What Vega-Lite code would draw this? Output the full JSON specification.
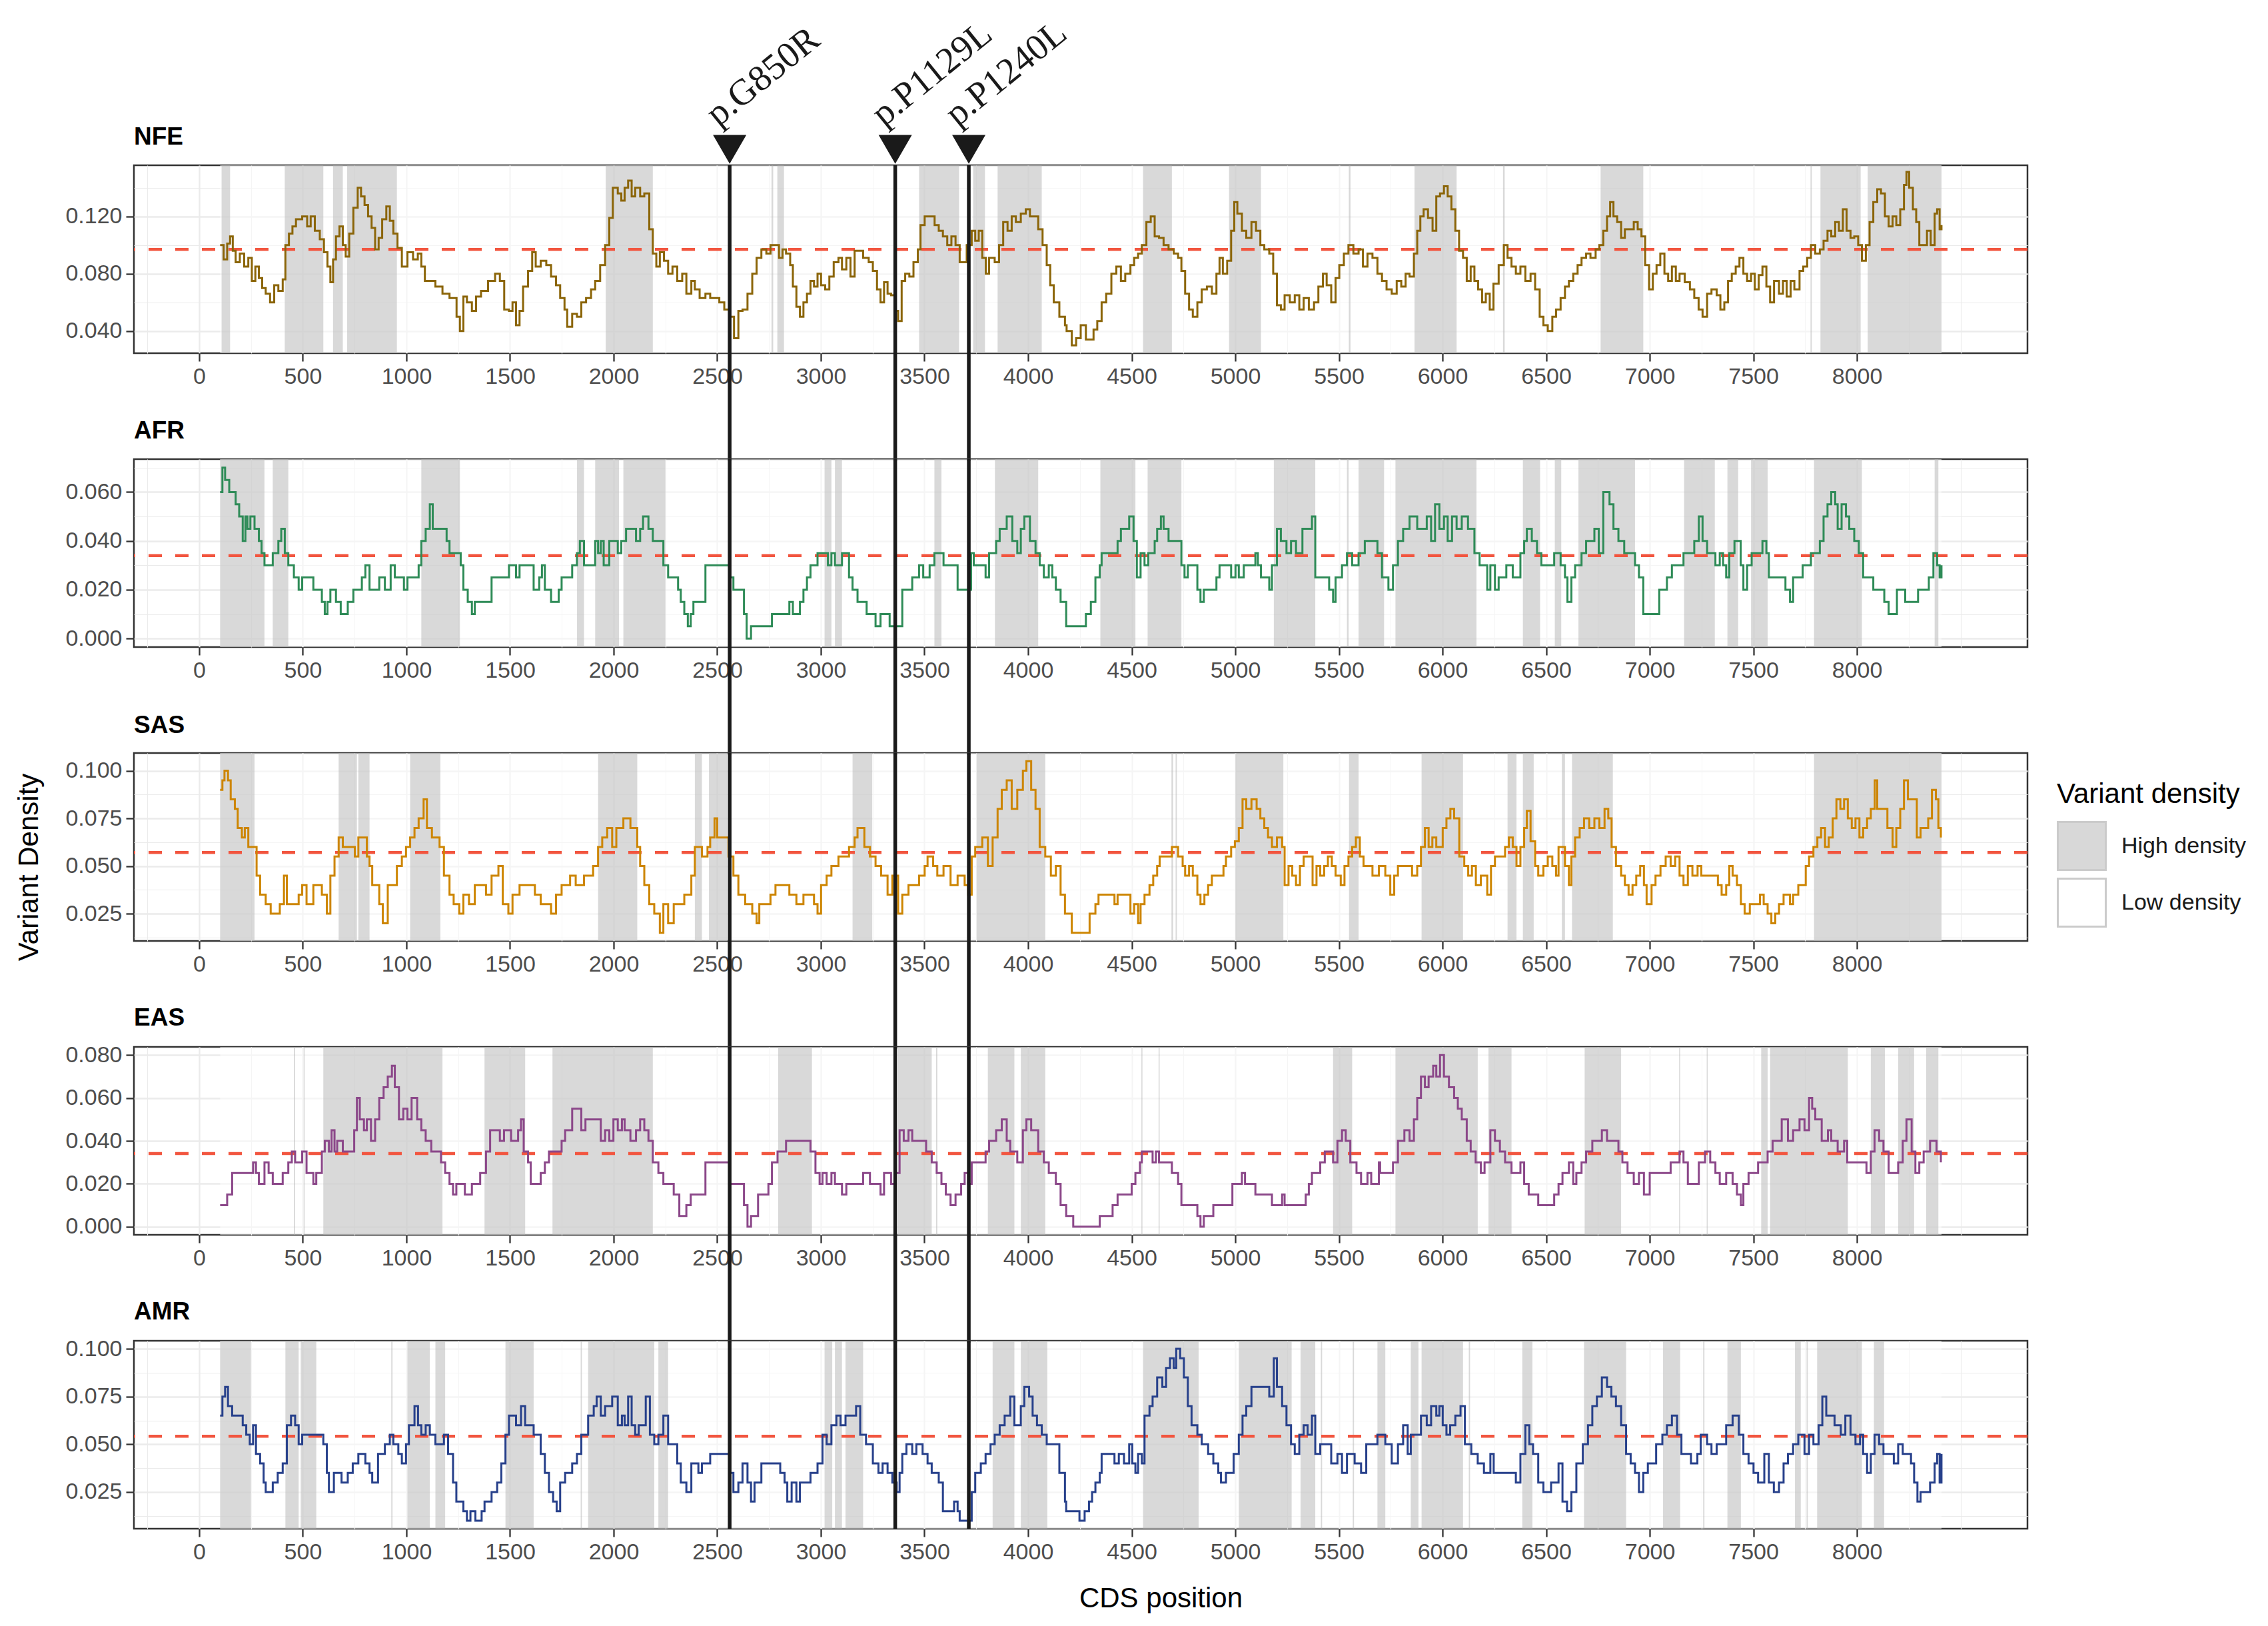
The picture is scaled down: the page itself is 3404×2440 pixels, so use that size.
{
  "$schema": "https://vega.github.io/schema/vega-lite/v6.json",
  "background": "white",
  "padding": {"left": 20, "top": 19, "right": 5, "bottom": 5},
  "bounds": "flush",
  "spacing": 159,
  "config": {
    "font": "Liberation Sans",
    "view": {"stroke": "#333333", "strokeWidth": 2.5},
    "axis": {
      "domain": false, "gridColor": "#EBEBEB", "tickColor": "#333333", "tickSize": 12, "tickWidth": 2.3,
      "labelFont": "Liberation Sans", "labelFontSize": 34, "labelColor": "#4D4D4D", "labelPadding": 6,
      "titleFont": "Liberation Sans", "titleFontSize": 42, "titleFontWeight": "normal", "titleColor": "#000000"
    },
    "title": {"anchor": "start", "frame": "group", "fontSize": 37, "fontWeight": "bold", "color": "#000000", "baseline": "alphabetic", "offset": 19, "font": "Liberation Sans"}
  },
  "datasets": {
    "variants": [
      {"label": "p.G850R", "pos": 2560},
      {"label": "p.P1129L", "pos": 3359},
      {"label": "p.P1240L", "pos": 3714}
    ],
    "means": [
      {"pop": "NFE", "mean": 0.097},
      {"pop": "AFR", "mean": 0.034},
      {"pop": "SAS", "mean": 0.0571},
      {"pop": "EAS", "mean": 0.0341},
      {"pop": "AMR", "mean": 0.0542}
    ],
    "regions": [
      {"pop":"NFE","start":101,"end":8408,"density":"Low density"},
      {"pop":"AFR","start":101,"end":8408,"density":"Low density"},
      {"pop":"SAS","start":101,"end":8408,"density":"Low density"},
      {"pop":"EAS","start":101,"end":8408,"density":"Low density"},
      {"pop":"AMR","start":101,"end":8408,"density":"Low density"},
      {"pop":"NFE","start":108,"end":149,"density":"High density"},
      {"pop":"NFE","start":413,"end":599,"density":"High density"},
      {"pop":"NFE","start":646,"end":693,"density":"High density"},
      {"pop":"NFE","start":714,"end":954,"density":"High density"},
      {"pop":"NFE","start":1962,"end":2189,"density":"High density"},
      {"pop":"NFE","start":2762,"end":2770,"density":"High density"},
      {"pop":"NFE","start":2790,"end":2822,"density":"High density"},
      {"pop":"NFE","start":3474,"end":3667,"density":"High density"},
      {"pop":"NFE","start":3735,"end":3792,"density":"High density"},
      {"pop":"NFE","start":3853,"end":4066,"density":"High density"},
      {"pop":"NFE","start":4555,"end":4694,"density":"High density"},
      {"pop":"NFE","start":4970,"end":5124,"density":"High density"},
      {"pop":"NFE","start":5548,"end":5556,"density":"High density"},
      {"pop":"NFE","start":5865,"end":6068,"density":"High density"},
      {"pop":"NFE","start":6292,"end":6300,"density":"High density"},
      {"pop":"NFE","start":6763,"end":6969,"density":"High density"},
      {"pop":"NFE","start":7776,"end":7782,"density":"High density"},
      {"pop":"NFE","start":7824,"end":8018,"density":"High density"},
      {"pop":"NFE","start":8052,"end":8408,"density":"High density"},
      {"pop":"AFR","start":101,"end":315,"density":"High density"},
      {"pop":"AFR","start":355,"end":430,"density":"High density"},
      {"pop":"AFR","start":1072,"end":1258,"density":"High density"},
      {"pop":"AFR","start":1823,"end":1857,"density":"High density"},
      {"pop":"AFR","start":1911,"end":2026,"density":"High density"},
      {"pop":"AFR","start":2047,"end":2250,"density":"High density"},
      {"pop":"AFR","start":3018,"end":3051,"density":"High density"},
      {"pop":"AFR","start":3068,"end":3102,"density":"High density"},
      {"pop":"AFR","start":3548,"end":3582,"density":"High density"},
      {"pop":"AFR","start":3840,"end":4049,"density":"High density"},
      {"pop":"AFR","start":4349,"end":4518,"density":"High density"},
      {"pop":"AFR","start":4577,"end":4740,"density":"High density"},
      {"pop":"AFR","start":5186,"end":5386,"density":"High density"},
      {"pop":"AFR","start":5539,"end":5547,"density":"High density"},
      {"pop":"AFR","start":5595,"end":5718,"density":"High density"},
      {"pop":"AFR","start":5773,"end":6164,"density":"High density"},
      {"pop":"AFR","start":6388,"end":6471,"density":"High density"},
      {"pop":"AFR","start":6542,"end":6573,"density":"High density"},
      {"pop":"AFR","start":6656,"end":6929,"density":"High density"},
      {"pop":"AFR","start":7166,"end":7314,"density":"High density"},
      {"pop":"AFR","start":7375,"end":7427,"density":"High density"},
      {"pop":"AFR","start":7489,"end":7569,"density":"High density"},
      {"pop":"AFR","start":7793,"end":8024,"density":"High density"},
      {"pop":"AFR","start":8375,"end":8393,"density":"High density"},
      {"pop":"SAS","start":101,"end":267,"density":"High density"},
      {"pop":"SAS","start":673,"end":761,"density":"High density"},
      {"pop":"SAS","start":768,"end":822,"density":"High density"},
      {"pop":"SAS","start":1018,"end":1164,"density":"High density"},
      {"pop":"SAS","start":1925,"end":2114,"density":"High density"},
      {"pop":"SAS","start":2392,"end":2426,"density":"High density"},
      {"pop":"SAS","start":2460,"end":2547,"density":"High density"},
      {"pop":"SAS","start":3153,"end":3248,"density":"High density"},
      {"pop":"SAS","start":3752,"end":4083,"density":"High density"},
      {"pop":"SAS","start":4692,"end":4700,"density":"High density"},
      {"pop":"SAS","start":4712,"end":4718,"density":"High density"},
      {"pop":"SAS","start":5001,"end":5232,"density":"High density"},
      {"pop":"SAS","start":5549,"end":5595,"density":"High density"},
      {"pop":"SAS","start":5899,"end":6099,"density":"High density"},
      {"pop":"SAS","start":6314,"end":6357,"density":"High density"},
      {"pop":"SAS","start":6388,"end":6440,"density":"High density"},
      {"pop":"SAS","start":6576,"end":6591,"density":"High density"},
      {"pop":"SAS","start":6625,"end":6822,"density":"High density"},
      {"pop":"SAS","start":7793,"end":8408,"density":"High density"},
      {"pop":"EAS","start":457,"end":463,"density":"High density"},
      {"pop":"EAS","start":504,"end":509,"density":"High density"},
      {"pop":"EAS","start":599,"end":1174,"density":"High density"},
      {"pop":"EAS","start":1377,"end":1573,"density":"High density"},
      {"pop":"EAS","start":1705,"end":2189,"density":"High density"},
      {"pop":"EAS","start":2794,"end":2957,"density":"High density"},
      {"pop":"EAS","start":3373,"end":3535,"density":"High density"},
      {"pop":"EAS","start":3556,"end":3562,"density":"High density"},
      {"pop":"EAS","start":3806,"end":3934,"density":"High density"},
      {"pop":"EAS","start":3965,"end":4083,"density":"High density"},
      {"pop":"EAS","start":4547,"end":4552,"density":"High density"},
      {"pop":"EAS","start":4630,"end":4635,"density":"High density"},
      {"pop":"EAS","start":5472,"end":5564,"density":"High density"},
      {"pop":"EAS","start":5773,"end":6170,"density":"High density"},
      {"pop":"EAS","start":6222,"end":6333,"density":"High density"},
      {"pop":"EAS","start":6686,"end":6862,"density":"High density"},
      {"pop":"EAS","start":7142,"end":7147,"density":"High density"},
      {"pop":"EAS","start":7275,"end":7280,"density":"High density"},
      {"pop":"EAS","start":7538,"end":7569,"density":"High density"},
      {"pop":"EAS","start":7581,"end":7956,"density":"High density"},
      {"pop":"EAS","start":8067,"end":8135,"density":"High density"},
      {"pop":"EAS","start":8199,"end":8276,"density":"High density"},
      {"pop":"EAS","start":8334,"end":8393,"density":"High density"},
      {"pop":"AMR","start":101,"end":250,"density":"High density"},
      {"pop":"AMR","start":416,"end":480,"density":"High density"},
      {"pop":"AMR","start":490,"end":565,"density":"High density"},
      {"pop":"AMR","start":927,"end":933,"density":"High density"},
      {"pop":"AMR","start":1005,"end":1113,"density":"High density"},
      {"pop":"AMR","start":1140,"end":1187,"density":"High density"},
      {"pop":"AMR","start":1478,"end":1614,"density":"High density"},
      {"pop":"AMR","start":1841,"end":1847,"density":"High density"},
      {"pop":"AMR","start":1877,"end":2196,"density":"High density"},
      {"pop":"AMR","start":2216,"end":2263,"density":"High density"},
      {"pop":"AMR","start":3018,"end":3055,"density":"High density"},
      {"pop":"AMR","start":3068,"end":3102,"density":"High density"},
      {"pop":"AMR","start":3119,"end":3204,"density":"High density"},
      {"pop":"AMR","start":3829,"end":3934,"density":"High density"},
      {"pop":"AMR","start":3965,"end":4093,"density":"High density"},
      {"pop":"AMR","start":4555,"end":4823,"density":"High density"},
      {"pop":"AMR","start":5017,"end":5272,"density":"High density"},
      {"pop":"AMR","start":5315,"end":5386,"density":"High density"},
      {"pop":"AMR","start":5413,"end":5419,"density":"High density"},
      {"pop":"AMR","start":5567,"end":5573,"density":"High density"},
      {"pop":"AMR","start":5686,"end":5724,"density":"High density"},
      {"pop":"AMR","start":5847,"end":5884,"density":"High density"},
      {"pop":"AMR","start":5899,"end":6099,"density":"High density"},
      {"pop":"AMR","start":6127,"end":6133,"density":"High density"},
      {"pop":"AMR","start":6385,"end":6434,"density":"High density"},
      {"pop":"AMR","start":6683,"end":6886,"density":"High density"},
      {"pop":"AMR","start":7064,"end":7147,"density":"High density"},
      {"pop":"AMR","start":7258,"end":7264,"density":"High density"},
      {"pop":"AMR","start":7375,"end":7440,"density":"High density"},
      {"pop":"AMR","start":7701,"end":7729,"density":"High density"},
      {"pop":"AMR","start":7757,"end":7763,"density":"High density"},
      {"pop":"AMR","start":7808,"end":8024,"density":"High density"},
      {"pop":"AMR","start":8082,"end":8131,"density":"High density"}
    ],
    "density": [
      {"pop":"NFE","pos":101,"val":0.100},{"pop":"NFE","pos":118,"val":0.090},{"pop":"NFE","pos":135,"val":0.101},{"pop":"NFE","pos":149,"val":0.106},{"pop":"NFE","pos":162,"val":0.096},{"pop":"NFE","pos":176,"val":0.088},{"pop":"NFE","pos":196,"val":0.094},{"pop":"NFE","pos":217,"val":0.085},{"pop":"NFE","pos":237,"val":0.091},{"pop":"NFE","pos":254,"val":0.075},{"pop":"NFE","pos":271,"val":0.085},{"pop":"NFE","pos":288,"val":0.077},{"pop":"NFE","pos":304,"val":0.070},{"pop":"NFE","pos":321,"val":0.066},{"pop":"NFE","pos":342,"val":0.060},{"pop":"NFE","pos":362,"val":0.072},{"pop":"NFE","pos":382,"val":0.068},{"pop":"NFE","pos":403,"val":0.076},{"pop":"NFE","pos":416,"val":0.100},{"pop":"NFE","pos":433,"val":0.108},{"pop":"NFE","pos":450,"val":0.113},{"pop":"NFE","pos":467,"val":0.118},{"pop":"NFE","pos":497,"val":0.120},{"pop":"NFE","pos":521,"val":0.113},{"pop":"NFE","pos":538,"val":0.120},{"pop":"NFE","pos":558,"val":0.110},{"pop":"NFE","pos":582,"val":0.104},{"pop":"NFE","pos":602,"val":0.095},{"pop":"NFE","pos":619,"val":0.085},{"pop":"NFE","pos":633,"val":0.074},{"pop":"NFE","pos":646,"val":0.090},{"pop":"NFE","pos":660,"val":0.106},{"pop":"NFE","pos":677,"val":0.113},{"pop":"NFE","pos":693,"val":0.100},{"pop":"NFE","pos":707,"val":0.092},{"pop":"NFE","pos":724,"val":0.108},{"pop":"NFE","pos":744,"val":0.126},{"pop":"NFE","pos":765,"val":0.140},{"pop":"NFE","pos":781,"val":0.134},{"pop":"NFE","pos":798,"val":0.128},{"pop":"NFE","pos":815,"val":0.120},{"pop":"NFE","pos":832,"val":0.112},{"pop":"NFE","pos":849,"val":0.097},{"pop":"NFE","pos":866,"val":0.105},{"pop":"NFE","pos":883,"val":0.118},{"pop":"NFE","pos":903,"val":0.127},{"pop":"NFE","pos":920,"val":0.117},{"pop":"NFE","pos":937,"val":0.108},{"pop":"NFE","pos":957,"val":0.098},{"pop":"NFE","pos":978,"val":0.085},{"pop":"NFE","pos":1005,"val":0.095},{"pop":"NFE","pos":1032,"val":0.090},{"pop":"NFE","pos":1055,"val":0.094},{"pop":"NFE","pos":1072,"val":0.085},{"pop":"NFE","pos":1089,"val":0.075},{"pop":"NFE","pos":1140,"val":0.071},{"pop":"NFE","pos":1174,"val":0.066},{"pop":"NFE","pos":1208,"val":0.063},{"pop":"NFE","pos":1242,"val":0.050},{"pop":"NFE","pos":1258,"val":0.040},{"pop":"NFE","pos":1275,"val":0.064},{"pop":"NFE","pos":1292,"val":0.060},{"pop":"NFE","pos":1316,"val":0.054},{"pop":"NFE","pos":1336,"val":0.064},{"pop":"NFE","pos":1360,"val":0.068},{"pop":"NFE","pos":1394,"val":0.075},{"pop":"NFE","pos":1428,"val":0.080},{"pop":"NFE","pos":1451,"val":0.075},{"pop":"NFE","pos":1472,"val":0.055},{"pop":"NFE","pos":1495,"val":0.054},{"pop":"NFE","pos":1512,"val":0.060},{"pop":"NFE","pos":1529,"val":0.044},{"pop":"NFE","pos":1546,"val":0.054},{"pop":"NFE","pos":1563,"val":0.071},{"pop":"NFE","pos":1587,"val":0.082},{"pop":"NFE","pos":1607,"val":0.095},{"pop":"NFE","pos":1624,"val":0.085},{"pop":"NFE","pos":1648,"val":0.089},{"pop":"NFE","pos":1675,"val":0.086},{"pop":"NFE","pos":1698,"val":0.078},{"pop":"NFE","pos":1722,"val":0.072},{"pop":"NFE","pos":1742,"val":0.063},{"pop":"NFE","pos":1763,"val":0.055},{"pop":"NFE","pos":1776,"val":0.043},{"pop":"NFE","pos":1800,"val":0.052},{"pop":"NFE","pos":1823,"val":0.050},{"pop":"NFE","pos":1844,"val":0.060},{"pop":"NFE","pos":1867,"val":0.063},{"pop":"NFE","pos":1891,"val":0.069},{"pop":"NFE","pos":1911,"val":0.075},{"pop":"NFE","pos":1935,"val":0.086},{"pop":"NFE","pos":1959,"val":0.100},{"pop":"NFE","pos":1979,"val":0.119},{"pop":"NFE","pos":1996,"val":0.140},{"pop":"NFE","pos":2020,"val":0.136},{"pop":"NFE","pos":2037,"val":0.131},{"pop":"NFE","pos":2053,"val":0.140},{"pop":"NFE","pos":2070,"val":0.145},{"pop":"NFE","pos":2087,"val":0.134},{"pop":"NFE","pos":2104,"val":0.140},{"pop":"NFE","pos":2128,"val":0.134},{"pop":"NFE","pos":2148,"val":0.136},{"pop":"NFE","pos":2172,"val":0.111},{"pop":"NFE","pos":2189,"val":0.094},{"pop":"NFE","pos":2206,"val":0.085},{"pop":"NFE","pos":2223,"val":0.095},{"pop":"NFE","pos":2243,"val":0.089},{"pop":"NFE","pos":2263,"val":0.080},{"pop":"NFE","pos":2284,"val":0.085},{"pop":"NFE","pos":2307,"val":0.075},{"pop":"NFE","pos":2331,"val":0.080},{"pop":"NFE","pos":2351,"val":0.066},{"pop":"NFE","pos":2375,"val":0.075},{"pop":"NFE","pos":2392,"val":0.069},{"pop":"NFE","pos":2415,"val":0.063},{"pop":"NFE","pos":2443,"val":0.066},{"pop":"NFE","pos":2466,"val":0.063},{"pop":"NFE","pos":2510,"val":0.060},{"pop":"NFE","pos":2534,"val":0.055},{"pop":"NFE","pos":2561,"val":0.050},{"pop":"NFE","pos":2581,"val":0.035},{"pop":"NFE","pos":2602,"val":0.054},{"pop":"NFE","pos":2622,"val":0.055},{"pop":"NFE","pos":2646,"val":0.066},{"pop":"NFE","pos":2669,"val":0.080},{"pop":"NFE","pos":2690,"val":0.091},{"pop":"NFE","pos":2713,"val":0.097},{"pop":"NFE","pos":2737,"val":0.094},{"pop":"NFE","pos":2757,"val":0.100},{"pop":"NFE","pos":2798,"val":0.091},{"pop":"NFE","pos":2815,"val":0.097},{"pop":"NFE","pos":2832,"val":0.094},{"pop":"NFE","pos":2852,"val":0.086},{"pop":"NFE","pos":2865,"val":0.071},{"pop":"NFE","pos":2882,"val":0.057},{"pop":"NFE","pos":2899,"val":0.050},{"pop":"NFE","pos":2916,"val":0.060},{"pop":"NFE","pos":2933,"val":0.066},{"pop":"NFE","pos":2950,"val":0.075},{"pop":"NFE","pos":2967,"val":0.071},{"pop":"NFE","pos":2984,"val":0.080},{"pop":"NFE","pos":3001,"val":0.072},{"pop":"NFE","pos":3021,"val":0.069},{"pop":"NFE","pos":3041,"val":0.078},{"pop":"NFE","pos":3062,"val":0.088},{"pop":"NFE","pos":3085,"val":0.091},{"pop":"NFE","pos":3102,"val":0.083},{"pop":"NFE","pos":3123,"val":0.091},{"pop":"NFE","pos":3143,"val":0.078},{"pop":"NFE","pos":3163,"val":0.096},{"pop":"NFE","pos":3204,"val":0.091},{"pop":"NFE","pos":3231,"val":0.088},{"pop":"NFE","pos":3251,"val":0.082},{"pop":"NFE","pos":3271,"val":0.069},{"pop":"NFE","pos":3288,"val":0.060},{"pop":"NFE","pos":3305,"val":0.074},{"pop":"NFE","pos":3322,"val":0.066},{"pop":"NFE","pos":3339,"val":0.065},{"pop":"NFE","pos":3359,"val":0.054},{"pop":"NFE","pos":3373,"val":0.047},{"pop":"NFE","pos":3390,"val":0.075},{"pop":"NFE","pos":3407,"val":0.080},{"pop":"NFE","pos":3427,"val":0.078},{"pop":"NFE","pos":3447,"val":0.088},{"pop":"NFE","pos":3468,"val":0.097},{"pop":"NFE","pos":3481,"val":0.114},{"pop":"NFE","pos":3501,"val":0.120},{"pop":"NFE","pos":3549,"val":0.114},{"pop":"NFE","pos":3569,"val":0.110},{"pop":"NFE","pos":3589,"val":0.106},{"pop":"NFE","pos":3610,"val":0.100},{"pop":"NFE","pos":3630,"val":0.106},{"pop":"NFE","pos":3650,"val":0.100},{"pop":"NFE","pos":3670,"val":0.088},{"pop":"NFE","pos":3704,"val":0.100},{"pop":"NFE","pos":3728,"val":0.110},{"pop":"NFE","pos":3745,"val":0.103},{"pop":"NFE","pos":3762,"val":0.110},{"pop":"NFE","pos":3779,"val":0.091},{"pop":"NFE","pos":3796,"val":0.080},{"pop":"NFE","pos":3812,"val":0.091},{"pop":"NFE","pos":3839,"val":0.088},{"pop":"NFE","pos":3860,"val":0.100},{"pop":"NFE","pos":3880,"val":0.116},{"pop":"NFE","pos":3901,"val":0.110},{"pop":"NFE","pos":3921,"val":0.120},{"pop":"NFE","pos":3941,"val":0.116},{"pop":"NFE","pos":3965,"val":0.122},{"pop":"NFE","pos":3989,"val":0.125},{"pop":"NFE","pos":4009,"val":0.120},{"pop":"NFE","pos":4049,"val":0.111},{"pop":"NFE","pos":4070,"val":0.100},{"pop":"NFE","pos":4090,"val":0.086},{"pop":"NFE","pos":4107,"val":0.072},{"pop":"NFE","pos":4124,"val":0.060},{"pop":"NFE","pos":4151,"val":0.050},{"pop":"NFE","pos":4178,"val":0.044},{"pop":"NFE","pos":4186,"val":0.040},{"pop":"NFE","pos":4211,"val":0.030},{"pop":"NFE","pos":4232,"val":0.035},{"pop":"NFE","pos":4254,"val":0.044},{"pop":"NFE","pos":4279,"val":0.034},{"pop":"NFE","pos":4316,"val":0.041},{"pop":"NFE","pos":4334,"val":0.047},{"pop":"NFE","pos":4355,"val":0.060},{"pop":"NFE","pos":4377,"val":0.066},{"pop":"NFE","pos":4402,"val":0.080},{"pop":"NFE","pos":4426,"val":0.085},{"pop":"NFE","pos":4448,"val":0.075},{"pop":"NFE","pos":4469,"val":0.080},{"pop":"NFE","pos":4494,"val":0.086},{"pop":"NFE","pos":4512,"val":0.091},{"pop":"NFE","pos":4531,"val":0.094},{"pop":"NFE","pos":4549,"val":0.100},{"pop":"NFE","pos":4571,"val":0.116},{"pop":"NFE","pos":4592,"val":0.120},{"pop":"NFE","pos":4611,"val":0.106},{"pop":"NFE","pos":4632,"val":0.105},{"pop":"NFE","pos":4654,"val":0.100},{"pop":"NFE","pos":4678,"val":0.097},{"pop":"NFE","pos":4703,"val":0.094},{"pop":"NFE","pos":4724,"val":0.091},{"pop":"NFE","pos":4740,"val":0.082},{"pop":"NFE","pos":4758,"val":0.066},{"pop":"NFE","pos":4777,"val":0.055},{"pop":"NFE","pos":4795,"val":0.050},{"pop":"NFE","pos":4817,"val":0.060},{"pop":"NFE","pos":4838,"val":0.069},{"pop":"NFE","pos":4863,"val":0.071},{"pop":"NFE","pos":4887,"val":0.066},{"pop":"NFE","pos":4909,"val":0.080},{"pop":"NFE","pos":4924,"val":0.091},{"pop":"NFE","pos":4940,"val":0.080},{"pop":"NFE","pos":4961,"val":0.089},{"pop":"NFE","pos":4980,"val":0.110},{"pop":"NFE","pos":4995,"val":0.130},{"pop":"NFE","pos":5010,"val":0.122},{"pop":"NFE","pos":5032,"val":0.110},{"pop":"NFE","pos":5053,"val":0.105},{"pop":"NFE","pos":5078,"val":0.116},{"pop":"NFE","pos":5100,"val":0.110},{"pop":"NFE","pos":5121,"val":0.100},{"pop":"NFE","pos":5140,"val":0.097},{"pop":"NFE","pos":5164,"val":0.094},{"pop":"NFE","pos":5183,"val":0.080},{"pop":"NFE","pos":5201,"val":0.058},{"pop":"NFE","pos":5220,"val":0.055},{"pop":"NFE","pos":5238,"val":0.065},{"pop":"NFE","pos":5263,"val":0.060},{"pop":"NFE","pos":5287,"val":0.065},{"pop":"NFE","pos":5309,"val":0.055},{"pop":"NFE","pos":5330,"val":0.063},{"pop":"NFE","pos":5355,"val":0.055},{"pop":"NFE","pos":5380,"val":0.060},{"pop":"NFE","pos":5401,"val":0.071},{"pop":"NFE","pos":5423,"val":0.080},{"pop":"NFE","pos":5441,"val":0.072},{"pop":"NFE","pos":5463,"val":0.060},{"pop":"NFE","pos":5484,"val":0.077},{"pop":"NFE","pos":5502,"val":0.086},{"pop":"NFE","pos":5524,"val":0.094},{"pop":"NFE","pos":5546,"val":0.100},{"pop":"NFE","pos":5570,"val":0.094},{"pop":"NFE","pos":5595,"val":0.097},{"pop":"NFE","pos":5616,"val":0.085},{"pop":"NFE","pos":5638,"val":0.094},{"pop":"NFE","pos":5662,"val":0.091},{"pop":"NFE","pos":5686,"val":0.080},{"pop":"NFE","pos":5708,"val":0.075},{"pop":"NFE","pos":5730,"val":0.069},{"pop":"NFE","pos":5755,"val":0.066},{"pop":"NFE","pos":5779,"val":0.075},{"pop":"NFE","pos":5801,"val":0.071},{"pop":"NFE","pos":5822,"val":0.080},{"pop":"NFE","pos":5841,"val":0.078},{"pop":"NFE","pos":5862,"val":0.094},{"pop":"NFE","pos":5878,"val":0.110},{"pop":"NFE","pos":5893,"val":0.120},{"pop":"NFE","pos":5909,"val":0.125},{"pop":"NFE","pos":5930,"val":0.119},{"pop":"NFE","pos":5952,"val":0.110},{"pop":"NFE","pos":5970,"val":0.134},{"pop":"NFE","pos":5988,"val":0.136},{"pop":"NFE","pos":6007,"val":0.141},{"pop":"NFE","pos":6025,"val":0.134},{"pop":"NFE","pos":6043,"val":0.125},{"pop":"NFE","pos":6062,"val":0.110},{"pop":"NFE","pos":6080,"val":0.096},{"pop":"NFE","pos":6099,"val":0.091},{"pop":"NFE","pos":6117,"val":0.075},{"pop":"NFE","pos":6136,"val":0.085},{"pop":"NFE","pos":6154,"val":0.075},{"pop":"NFE","pos":6172,"val":0.069},{"pop":"NFE","pos":6191,"val":0.060},{"pop":"NFE","pos":6209,"val":0.066},{"pop":"NFE","pos":6228,"val":0.055},{"pop":"NFE","pos":6246,"val":0.073},{"pop":"NFE","pos":6271,"val":0.086},{"pop":"NFE","pos":6296,"val":0.100},{"pop":"NFE","pos":6314,"val":0.091},{"pop":"NFE","pos":6333,"val":0.085},{"pop":"NFE","pos":6354,"val":0.080},{"pop":"NFE","pos":6376,"val":0.085},{"pop":"NFE","pos":6400,"val":0.075},{"pop":"NFE","pos":6425,"val":0.080},{"pop":"NFE","pos":6447,"val":0.069},{"pop":"NFE","pos":6469,"val":0.050},{"pop":"NFE","pos":6487,"val":0.044},{"pop":"NFE","pos":6508,"val":0.040},{"pop":"NFE","pos":6530,"val":0.050},{"pop":"NFE","pos":6548,"val":0.055},{"pop":"NFE","pos":6570,"val":0.063},{"pop":"NFE","pos":6591,"val":0.071},{"pop":"NFE","pos":6610,"val":0.075},{"pop":"NFE","pos":6631,"val":0.080},{"pop":"NFE","pos":6652,"val":0.086},{"pop":"NFE","pos":6671,"val":0.091},{"pop":"NFE","pos":6693,"val":0.094},{"pop":"NFE","pos":6714,"val":0.091},{"pop":"NFE","pos":6739,"val":0.097},{"pop":"NFE","pos":6757,"val":0.100},{"pop":"NFE","pos":6776,"val":0.110},{"pop":"NFE","pos":6794,"val":0.120},{"pop":"NFE","pos":6809,"val":0.130},{"pop":"NFE","pos":6825,"val":0.120},{"pop":"NFE","pos":6843,"val":0.116},{"pop":"NFE","pos":6862,"val":0.105},{"pop":"NFE","pos":6880,"val":0.111},{"pop":"NFE","pos":6923,"val":0.116},{"pop":"NFE","pos":6942,"val":0.111},{"pop":"NFE","pos":6960,"val":0.106},{"pop":"NFE","pos":6978,"val":0.086},{"pop":"NFE","pos":6997,"val":0.069},{"pop":"NFE","pos":7015,"val":0.080},{"pop":"NFE","pos":7033,"val":0.086},{"pop":"NFE","pos":7051,"val":0.094},{"pop":"NFE","pos":7071,"val":0.080},{"pop":"NFE","pos":7089,"val":0.075},{"pop":"NFE","pos":7107,"val":0.085},{"pop":"NFE","pos":7126,"val":0.075},{"pop":"NFE","pos":7144,"val":0.080},{"pop":"NFE","pos":7169,"val":0.074},{"pop":"NFE","pos":7194,"val":0.069},{"pop":"NFE","pos":7215,"val":0.063},{"pop":"NFE","pos":7236,"val":0.055},{"pop":"NFE","pos":7255,"val":0.050},{"pop":"NFE","pos":7277,"val":0.066},{"pop":"NFE","pos":7298,"val":0.069},{"pop":"NFE","pos":7323,"val":0.065},{"pop":"NFE","pos":7341,"val":0.055},{"pop":"NFE","pos":7360,"val":0.060},{"pop":"NFE","pos":7378,"val":0.075},{"pop":"NFE","pos":7396,"val":0.080},{"pop":"NFE","pos":7415,"val":0.085},{"pop":"NFE","pos":7433,"val":0.091},{"pop":"NFE","pos":7452,"val":0.080},{"pop":"NFE","pos":7470,"val":0.075},{"pop":"NFE","pos":7489,"val":0.080},{"pop":"NFE","pos":7507,"val":0.069},{"pop":"NFE","pos":7526,"val":0.079},{"pop":"NFE","pos":7544,"val":0.085},{"pop":"NFE","pos":7563,"val":0.071},{"pop":"NFE","pos":7581,"val":0.060},{"pop":"NFE","pos":7600,"val":0.075},{"pop":"NFE","pos":7624,"val":0.066},{"pop":"NFE","pos":7643,"val":0.075},{"pop":"NFE","pos":7661,"val":0.064},{"pop":"NFE","pos":7680,"val":0.075},{"pop":"NFE","pos":7698,"val":0.069},{"pop":"NFE","pos":7723,"val":0.082},{"pop":"NFE","pos":7741,"val":0.085},{"pop":"NFE","pos":7760,"val":0.091},{"pop":"NFE","pos":7778,"val":0.100},{"pop":"NFE","pos":7799,"val":0.094},{"pop":"NFE","pos":7821,"val":0.097},{"pop":"NFE","pos":7839,"val":0.103},{"pop":"NFE","pos":7858,"val":0.110},{"pop":"NFE","pos":7876,"val":0.106},{"pop":"NFE","pos":7895,"val":0.116},{"pop":"NFE","pos":7913,"val":0.110},{"pop":"NFE","pos":7932,"val":0.125},{"pop":"NFE","pos":7950,"val":0.110},{"pop":"NFE","pos":7969,"val":0.105},{"pop":"NFE","pos":7987,"val":0.106},{"pop":"NFE","pos":8006,"val":0.100},{"pop":"NFE","pos":8024,"val":0.089},{"pop":"NFE","pos":8043,"val":0.100},{"pop":"NFE","pos":8061,"val":0.116},{"pop":"NFE","pos":8079,"val":0.130},{"pop":"NFE","pos":8098,"val":0.139},{"pop":"NFE","pos":8116,"val":0.136},{"pop":"NFE","pos":8135,"val":0.120},{"pop":"NFE","pos":8153,"val":0.113},{"pop":"NFE","pos":8172,"val":0.120},{"pop":"NFE","pos":8190,"val":0.114},{"pop":"NFE","pos":8209,"val":0.125},{"pop":"NFE","pos":8227,"val":0.142},{"pop":"NFE","pos":8239,"val":0.151},{"pop":"NFE","pos":8252,"val":0.140},{"pop":"NFE","pos":8270,"val":0.125},{"pop":"NFE","pos":8286,"val":0.116},{"pop":"NFE","pos":8301,"val":0.100},{"pop":"NFE","pos":8338,"val":0.110},{"pop":"NFE","pos":8356,"val":0.100},{"pop":"NFE","pos":8375,"val":0.122},{"pop":"NFE","pos":8387,"val":0.125},{"pop":"NFE","pos":8399,"val":0.111},{"pop":"NFE","pos":8408,"val":0.114},
      {"pop":"AFR","pos":101,"val":0.060},{"pop":"AFR","pos":112,"val":0.070},{"pop":"AFR","pos":125,"val":0.065},{"pop":"AFR","pos":145,"val":0.060},{"pop":"AFR","pos":176,"val":0.055},{"pop":"AFR","pos":193,"val":0.050},{"pop":"AFR","pos":210,"val":0.040},{"pop":"AFR","pos":223,"val":0.050},{"pop":"AFR","pos":233,"val":0.045},{"pop":"AFR","pos":247,"val":0.050},{"pop":"AFR","pos":267,"val":0.045},{"pop":"AFR","pos":288,"val":0.040},{"pop":"AFR","pos":301,"val":0.035},{"pop":"AFR","pos":315,"val":0.030},{"pop":"AFR","pos":355,"val":0.035},{"pop":"AFR","pos":382,"val":0.040},{"pop":"AFR","pos":396,"val":0.045},{"pop":"AFR","pos":413,"val":0.035},{"pop":"AFR","pos":430,"val":0.030},{"pop":"AFR","pos":457,"val":0.025},{"pop":"AFR","pos":480,"val":0.020},{"pop":"AFR","pos":497,"val":0.025},{"pop":"AFR","pos":551,"val":0.020},{"pop":"AFR","pos":592,"val":0.015},{"pop":"AFR","pos":606,"val":0.010},{"pop":"AFR","pos":619,"val":0.015},{"pop":"AFR","pos":633,"val":0.020},{"pop":"AFR","pos":660,"val":0.015},{"pop":"AFR","pos":683,"val":0.010},{"pop":"AFR","pos":717,"val":0.015},{"pop":"AFR","pos":744,"val":0.020},{"pop":"AFR","pos":785,"val":0.025},{"pop":"AFR","pos":802,"val":0.030},{"pop":"AFR","pos":822,"val":0.020},{"pop":"AFR","pos":869,"val":0.025},{"pop":"AFR","pos":896,"val":0.020},{"pop":"AFR","pos":924,"val":0.030},{"pop":"AFR","pos":944,"val":0.025},{"pop":"AFR","pos":988,"val":0.020},{"pop":"AFR","pos":1005,"val":0.025},{"pop":"AFR","pos":1059,"val":0.030},{"pop":"AFR","pos":1072,"val":0.040},{"pop":"AFR","pos":1093,"val":0.045},{"pop":"AFR","pos":1113,"val":0.055},{"pop":"AFR","pos":1127,"val":0.045},{"pop":"AFR","pos":1194,"val":0.040},{"pop":"AFR","pos":1208,"val":0.035},{"pop":"AFR","pos":1262,"val":0.030},{"pop":"AFR","pos":1275,"val":0.020},{"pop":"AFR","pos":1296,"val":0.015},{"pop":"AFR","pos":1316,"val":0.010},{"pop":"AFR","pos":1330,"val":0.015},{"pop":"AFR","pos":1411,"val":0.025},{"pop":"AFR","pos":1495,"val":0.030},{"pop":"AFR","pos":1529,"val":0.025},{"pop":"AFR","pos":1546,"val":0.030},{"pop":"AFR","pos":1614,"val":0.020},{"pop":"AFR","pos":1641,"val":0.025},{"pop":"AFR","pos":1654,"val":0.030},{"pop":"AFR","pos":1668,"val":0.020},{"pop":"AFR","pos":1698,"val":0.015},{"pop":"AFR","pos":1735,"val":0.020},{"pop":"AFR","pos":1749,"val":0.025},{"pop":"AFR","pos":1800,"val":0.030},{"pop":"AFR","pos":1823,"val":0.035},{"pop":"AFR","pos":1837,"val":0.040},{"pop":"AFR","pos":1857,"val":0.030},{"pop":"AFR","pos":1911,"val":0.040},{"pop":"AFR","pos":1925,"val":0.035},{"pop":"AFR","pos":1938,"val":0.040},{"pop":"AFR","pos":1952,"val":0.030},{"pop":"AFR","pos":1979,"val":0.040},{"pop":"AFR","pos":2020,"val":0.035},{"pop":"AFR","pos":2037,"val":0.040},{"pop":"AFR","pos":2060,"val":0.045},{"pop":"AFR","pos":2108,"val":0.040},{"pop":"AFR","pos":2128,"val":0.045},{"pop":"AFR","pos":2142,"val":0.050},{"pop":"AFR","pos":2168,"val":0.045},{"pop":"AFR","pos":2189,"val":0.040},{"pop":"AFR","pos":2240,"val":0.030},{"pop":"AFR","pos":2263,"val":0.025},{"pop":"AFR","pos":2311,"val":0.020},{"pop":"AFR","pos":2324,"val":0.015},{"pop":"AFR","pos":2341,"val":0.010},{"pop":"AFR","pos":2358,"val":0.005},{"pop":"AFR","pos":2372,"val":0.010},{"pop":"AFR","pos":2385,"val":0.015},{"pop":"AFR","pos":2443,"val":0.030},{"pop":"AFR","pos":2561,"val":0.025},{"pop":"AFR","pos":2578,"val":0.020},{"pop":"AFR","pos":2629,"val":0.010},{"pop":"AFR","pos":2642,"val":0.000},{"pop":"AFR","pos":2663,"val":0.005},{"pop":"AFR","pos":2764,"val":0.010},{"pop":"AFR","pos":2848,"val":0.015},{"pop":"AFR","pos":2865,"val":0.010},{"pop":"AFR","pos":2899,"val":0.015},{"pop":"AFR","pos":2916,"val":0.020},{"pop":"AFR","pos":2933,"val":0.025},{"pop":"AFR","pos":2950,"val":0.030},{"pop":"AFR","pos":2984,"val":0.035},{"pop":"AFR","pos":3034,"val":0.030},{"pop":"AFR","pos":3051,"val":0.035},{"pop":"AFR","pos":3068,"val":0.030},{"pop":"AFR","pos":3102,"val":0.035},{"pop":"AFR","pos":3136,"val":0.025},{"pop":"AFR","pos":3153,"val":0.020},{"pop":"AFR","pos":3177,"val":0.015},{"pop":"AFR","pos":3221,"val":0.010},{"pop":"AFR","pos":3264,"val":0.005},{"pop":"AFR","pos":3288,"val":0.010},{"pop":"AFR","pos":3332,"val":0.005},{"pop":"AFR","pos":3393,"val":0.020},{"pop":"AFR","pos":3441,"val":0.025},{"pop":"AFR","pos":3474,"val":0.030},{"pop":"AFR","pos":3494,"val":0.025},{"pop":"AFR","pos":3525,"val":0.030},{"pop":"AFR","pos":3548,"val":0.035},{"pop":"AFR","pos":3592,"val":0.030},{"pop":"AFR","pos":3660,"val":0.020},{"pop":"AFR","pos":3725,"val":0.035},{"pop":"AFR","pos":3738,"val":0.030},{"pop":"AFR","pos":3795,"val":0.025},{"pop":"AFR","pos":3812,"val":0.035},{"pop":"AFR","pos":3846,"val":0.040},{"pop":"AFR","pos":3863,"val":0.045},{"pop":"AFR","pos":3897,"val":0.050},{"pop":"AFR","pos":3924,"val":0.040},{"pop":"AFR","pos":3948,"val":0.035},{"pop":"AFR","pos":3965,"val":0.045},{"pop":"AFR","pos":3982,"val":0.050},{"pop":"AFR","pos":4009,"val":0.040},{"pop":"AFR","pos":4036,"val":0.035},{"pop":"AFR","pos":4056,"val":0.030},{"pop":"AFR","pos":4076,"val":0.025},{"pop":"AFR","pos":4100,"val":0.030},{"pop":"AFR","pos":4117,"val":0.025},{"pop":"AFR","pos":4134,"val":0.020},{"pop":"AFR","pos":4157,"val":0.015},{"pop":"AFR","pos":4184,"val":0.005},{"pop":"AFR","pos":4279,"val":0.010},{"pop":"AFR","pos":4303,"val":0.015},{"pop":"AFR","pos":4325,"val":0.025},{"pop":"AFR","pos":4346,"val":0.030},{"pop":"AFR","pos":4355,"val":0.035},{"pop":"AFR","pos":4432,"val":0.040},{"pop":"AFR","pos":4448,"val":0.045},{"pop":"AFR","pos":4488,"val":0.050},{"pop":"AFR","pos":4509,"val":0.040},{"pop":"AFR","pos":4525,"val":0.025},{"pop":"AFR","pos":4543,"val":0.035},{"pop":"AFR","pos":4562,"val":0.030},{"pop":"AFR","pos":4580,"val":0.035},{"pop":"AFR","pos":4611,"val":0.040},{"pop":"AFR","pos":4623,"val":0.045},{"pop":"AFR","pos":4641,"val":0.050},{"pop":"AFR","pos":4654,"val":0.045},{"pop":"AFR","pos":4678,"val":0.040},{"pop":"AFR","pos":4740,"val":0.030},{"pop":"AFR","pos":4755,"val":0.025},{"pop":"AFR","pos":4771,"val":0.030},{"pop":"AFR","pos":4817,"val":0.020},{"pop":"AFR","pos":4832,"val":0.015},{"pop":"AFR","pos":4848,"val":0.020},{"pop":"AFR","pos":4909,"val":0.025},{"pop":"AFR","pos":4924,"val":0.030},{"pop":"AFR","pos":4980,"val":0.025},{"pop":"AFR","pos":5001,"val":0.030},{"pop":"AFR","pos":5017,"val":0.025},{"pop":"AFR","pos":5041,"val":0.030},{"pop":"AFR","pos":5097,"val":0.035},{"pop":"AFR","pos":5109,"val":0.030},{"pop":"AFR","pos":5124,"val":0.025},{"pop":"AFR","pos":5164,"val":0.020},{"pop":"AFR","pos":5177,"val":0.030},{"pop":"AFR","pos":5201,"val":0.045},{"pop":"AFR","pos":5220,"val":0.040},{"pop":"AFR","pos":5247,"val":0.035},{"pop":"AFR","pos":5269,"val":0.040},{"pop":"AFR","pos":5293,"val":0.035},{"pop":"AFR","pos":5324,"val":0.045},{"pop":"AFR","pos":5370,"val":0.050},{"pop":"AFR","pos":5386,"val":0.025},{"pop":"AFR","pos":5453,"val":0.020},{"pop":"AFR","pos":5472,"val":0.015},{"pop":"AFR","pos":5484,"val":0.025},{"pop":"AFR","pos":5515,"val":0.030},{"pop":"AFR","pos":5539,"val":0.035},{"pop":"AFR","pos":5564,"val":0.030},{"pop":"AFR","pos":5595,"val":0.035},{"pop":"AFR","pos":5625,"val":0.040},{"pop":"AFR","pos":5686,"val":0.035},{"pop":"AFR","pos":5708,"val":0.025},{"pop":"AFR","pos":5739,"val":0.020},{"pop":"AFR","pos":5761,"val":0.030},{"pop":"AFR","pos":5785,"val":0.040},{"pop":"AFR","pos":5810,"val":0.045},{"pop":"AFR","pos":5841,"val":0.050},{"pop":"AFR","pos":5878,"val":0.045},{"pop":"AFR","pos":5924,"val":0.050},{"pop":"AFR","pos":5945,"val":0.040},{"pop":"AFR","pos":5964,"val":0.055},{"pop":"AFR","pos":5985,"val":0.045},{"pop":"AFR","pos":6007,"val":0.050},{"pop":"AFR","pos":6025,"val":0.040},{"pop":"AFR","pos":6046,"val":0.050},{"pop":"AFR","pos":6068,"val":0.045},{"pop":"AFR","pos":6093,"val":0.050},{"pop":"AFR","pos":6123,"val":0.045},{"pop":"AFR","pos":6154,"val":0.035},{"pop":"AFR","pos":6179,"val":0.030},{"pop":"AFR","pos":6216,"val":0.020},{"pop":"AFR","pos":6231,"val":0.030},{"pop":"AFR","pos":6253,"val":0.020},{"pop":"AFR","pos":6271,"val":0.025},{"pop":"AFR","pos":6308,"val":0.030},{"pop":"AFR","pos":6339,"val":0.025},{"pop":"AFR","pos":6376,"val":0.035},{"pop":"AFR","pos":6394,"val":0.040},{"pop":"AFR","pos":6407,"val":0.045},{"pop":"AFR","pos":6431,"val":0.040},{"pop":"AFR","pos":6456,"val":0.035},{"pop":"AFR","pos":6477,"val":0.030},{"pop":"AFR","pos":6539,"val":0.035},{"pop":"AFR","pos":6570,"val":0.030},{"pop":"AFR","pos":6591,"val":0.025},{"pop":"AFR","pos":6603,"val":0.015},{"pop":"AFR","pos":6622,"val":0.025},{"pop":"AFR","pos":6640,"val":0.030},{"pop":"AFR","pos":6671,"val":0.035},{"pop":"AFR","pos":6693,"val":0.040},{"pop":"AFR","pos":6733,"val":0.045},{"pop":"AFR","pos":6754,"val":0.035},{"pop":"AFR","pos":6776,"val":0.060},{"pop":"AFR","pos":6806,"val":0.055},{"pop":"AFR","pos":6825,"val":0.045},{"pop":"AFR","pos":6849,"val":0.040},{"pop":"AFR","pos":6877,"val":0.035},{"pop":"AFR","pos":6929,"val":0.030},{"pop":"AFR","pos":6948,"val":0.025},{"pop":"AFR","pos":6969,"val":0.010},{"pop":"AFR","pos":7046,"val":0.020},{"pop":"AFR","pos":7083,"val":0.025},{"pop":"AFR","pos":7107,"val":0.030},{"pop":"AFR","pos":7163,"val":0.035},{"pop":"AFR","pos":7215,"val":0.040},{"pop":"AFR","pos":7237,"val":0.050},{"pop":"AFR","pos":7255,"val":0.040},{"pop":"AFR","pos":7277,"val":0.035},{"pop":"AFR","pos":7317,"val":0.030},{"pop":"AFR","pos":7338,"val":0.035},{"pop":"AFR","pos":7354,"val":0.030},{"pop":"AFR","pos":7369,"val":0.025},{"pop":"AFR","pos":7384,"val":0.035},{"pop":"AFR","pos":7409,"val":0.040},{"pop":"AFR","pos":7439,"val":0.030},{"pop":"AFR","pos":7452,"val":0.020},{"pop":"AFR","pos":7470,"val":0.030},{"pop":"AFR","pos":7492,"val":0.035},{"pop":"AFR","pos":7544,"val":0.040},{"pop":"AFR","pos":7563,"val":0.035},{"pop":"AFR","pos":7575,"val":0.025},{"pop":"AFR","pos":7655,"val":0.020},{"pop":"AFR","pos":7677,"val":0.015},{"pop":"AFR","pos":7692,"val":0.025},{"pop":"AFR","pos":7738,"val":0.030},{"pop":"AFR","pos":7778,"val":0.035},{"pop":"AFR","pos":7821,"val":0.040},{"pop":"AFR","pos":7839,"val":0.050},{"pop":"AFR","pos":7858,"val":0.055},{"pop":"AFR","pos":7876,"val":0.060},{"pop":"AFR","pos":7895,"val":0.055},{"pop":"AFR","pos":7907,"val":0.045},{"pop":"AFR","pos":7926,"val":0.055},{"pop":"AFR","pos":7947,"val":0.050},{"pop":"AFR","pos":7963,"val":0.045},{"pop":"AFR","pos":7987,"val":0.040},{"pop":"AFR","pos":8009,"val":0.035},{"pop":"AFR","pos":8030,"val":0.025},{"pop":"AFR","pos":8079,"val":0.020},{"pop":"AFR","pos":8132,"val":0.015},{"pop":"AFR","pos":8153,"val":0.010},{"pop":"AFR","pos":8193,"val":0.020},{"pop":"AFR","pos":8233,"val":0.015},{"pop":"AFR","pos":8295,"val":0.020},{"pop":"AFR","pos":8347,"val":0.025},{"pop":"AFR","pos":8369,"val":0.035},{"pop":"AFR","pos":8387,"val":0.030},{"pop":"AFR","pos":8399,"val":0.025},{"pop":"AFR","pos":8408,"val":0.030},
      {"pop":"SAS","pos":101,"val":0.090},{"pop":"SAS","pos":112,"val":0.095},{"pop":"SAS","pos":122,"val":0.100},{"pop":"SAS","pos":139,"val":0.095},{"pop":"SAS","pos":152,"val":0.085},{"pop":"SAS","pos":172,"val":0.080},{"pop":"SAS","pos":186,"val":0.070},{"pop":"SAS","pos":206,"val":0.065},{"pop":"SAS","pos":220,"val":0.070},{"pop":"SAS","pos":237,"val":0.060},{"pop":"SAS","pos":277,"val":0.045},{"pop":"SAS","pos":294,"val":0.035},{"pop":"SAS","pos":321,"val":0.030},{"pop":"SAS","pos":345,"val":0.025},{"pop":"SAS","pos":389,"val":0.030},{"pop":"SAS","pos":409,"val":0.045},{"pop":"SAS","pos":423,"val":0.030},{"pop":"SAS","pos":480,"val":0.035},{"pop":"SAS","pos":497,"val":0.040},{"pop":"SAS","pos":518,"val":0.030},{"pop":"SAS","pos":551,"val":0.040},{"pop":"SAS","pos":592,"val":0.035},{"pop":"SAS","pos":616,"val":0.025},{"pop":"SAS","pos":633,"val":0.045},{"pop":"SAS","pos":653,"val":0.055},{"pop":"SAS","pos":673,"val":0.065},{"pop":"SAS","pos":693,"val":0.060},{"pop":"SAS","pos":751,"val":0.055},{"pop":"SAS","pos":768,"val":0.065},{"pop":"SAS","pos":809,"val":0.055},{"pop":"SAS","pos":822,"val":0.050},{"pop":"SAS","pos":835,"val":0.040},{"pop":"SAS","pos":869,"val":0.030},{"pop":"SAS","pos":886,"val":0.020},{"pop":"SAS","pos":910,"val":0.040},{"pop":"SAS","pos":954,"val":0.050},{"pop":"SAS","pos":978,"val":0.055},{"pop":"SAS","pos":998,"val":0.060},{"pop":"SAS","pos":1018,"val":0.065},{"pop":"SAS","pos":1039,"val":0.070},{"pop":"SAS","pos":1059,"val":0.075},{"pop":"SAS","pos":1083,"val":0.085},{"pop":"SAS","pos":1099,"val":0.070},{"pop":"SAS","pos":1123,"val":0.065},{"pop":"SAS","pos":1160,"val":0.060},{"pop":"SAS","pos":1181,"val":0.045},{"pop":"SAS","pos":1208,"val":0.035},{"pop":"SAS","pos":1228,"val":0.030},{"pop":"SAS","pos":1255,"val":0.025},{"pop":"SAS","pos":1275,"val":0.035},{"pop":"SAS","pos":1302,"val":0.030},{"pop":"SAS","pos":1330,"val":0.040},{"pop":"SAS","pos":1384,"val":0.035},{"pop":"SAS","pos":1411,"val":0.045},{"pop":"SAS","pos":1444,"val":0.050},{"pop":"SAS","pos":1465,"val":0.030},{"pop":"SAS","pos":1492,"val":0.025},{"pop":"SAS","pos":1512,"val":0.035},{"pop":"SAS","pos":1546,"val":0.040},{"pop":"SAS","pos":1620,"val":0.035},{"pop":"SAS","pos":1648,"val":0.030},{"pop":"SAS","pos":1698,"val":0.025},{"pop":"SAS","pos":1722,"val":0.035},{"pop":"SAS","pos":1749,"val":0.040},{"pop":"SAS","pos":1790,"val":0.045},{"pop":"SAS","pos":1817,"val":0.040},{"pop":"SAS","pos":1857,"val":0.045},{"pop":"SAS","pos":1901,"val":0.050},{"pop":"SAS","pos":1925,"val":0.060},{"pop":"SAS","pos":1945,"val":0.065},{"pop":"SAS","pos":1969,"val":0.070},{"pop":"SAS","pos":1993,"val":0.060},{"pop":"SAS","pos":2013,"val":0.070},{"pop":"SAS","pos":2047,"val":0.075},{"pop":"SAS","pos":2081,"val":0.070},{"pop":"SAS","pos":2114,"val":0.060},{"pop":"SAS","pos":2128,"val":0.050},{"pop":"SAS","pos":2148,"val":0.040},{"pop":"SAS","pos":2172,"val":0.030},{"pop":"SAS","pos":2196,"val":0.025},{"pop":"SAS","pos":2223,"val":0.015},{"pop":"SAS","pos":2240,"val":0.030},{"pop":"SAS","pos":2263,"val":0.020},{"pop":"SAS","pos":2290,"val":0.030},{"pop":"SAS","pos":2341,"val":0.035},{"pop":"SAS","pos":2375,"val":0.045},{"pop":"SAS","pos":2392,"val":0.060},{"pop":"SAS","pos":2426,"val":0.055},{"pop":"SAS","pos":2453,"val":0.060},{"pop":"SAS","pos":2466,"val":0.065},{"pop":"SAS","pos":2487,"val":0.075},{"pop":"SAS","pos":2500,"val":0.065},{"pop":"SAS","pos":2554,"val":0.055},{"pop":"SAS","pos":2578,"val":0.045},{"pop":"SAS","pos":2602,"val":0.035},{"pop":"SAS","pos":2635,"val":0.030},{"pop":"SAS","pos":2669,"val":0.025},{"pop":"SAS","pos":2690,"val":0.020},{"pop":"SAS","pos":2703,"val":0.030},{"pop":"SAS","pos":2757,"val":0.035},{"pop":"SAS","pos":2781,"val":0.040},{"pop":"SAS","pos":2848,"val":0.035},{"pop":"SAS","pos":2882,"val":0.030},{"pop":"SAS","pos":2916,"val":0.035},{"pop":"SAS","pos":2967,"val":0.030},{"pop":"SAS","pos":2984,"val":0.025},{"pop":"SAS","pos":3001,"val":0.040},{"pop":"SAS","pos":3028,"val":0.045},{"pop":"SAS","pos":3051,"val":0.050},{"pop":"SAS","pos":3085,"val":0.055},{"pop":"SAS","pos":3136,"val":0.060},{"pop":"SAS","pos":3163,"val":0.065},{"pop":"SAS","pos":3177,"val":0.070},{"pop":"SAS","pos":3210,"val":0.060},{"pop":"SAS","pos":3237,"val":0.055},{"pop":"SAS","pos":3264,"val":0.050},{"pop":"SAS","pos":3291,"val":0.045},{"pop":"SAS","pos":3322,"val":0.035},{"pop":"SAS","pos":3345,"val":0.045},{"pop":"SAS","pos":3373,"val":0.025},{"pop":"SAS","pos":3393,"val":0.035},{"pop":"SAS","pos":3423,"val":0.040},{"pop":"SAS","pos":3474,"val":0.045},{"pop":"SAS","pos":3501,"val":0.050},{"pop":"SAS","pos":3515,"val":0.055},{"pop":"SAS","pos":3542,"val":0.050},{"pop":"SAS","pos":3562,"val":0.045},{"pop":"SAS","pos":3592,"val":0.050},{"pop":"SAS","pos":3626,"val":0.040},{"pop":"SAS","pos":3660,"val":0.045},{"pop":"SAS","pos":3694,"val":0.040},{"pop":"SAS","pos":3711,"val":0.035},{"pop":"SAS","pos":3728,"val":0.055},{"pop":"SAS","pos":3745,"val":0.060},{"pop":"SAS","pos":3779,"val":0.065},{"pop":"SAS","pos":3806,"val":0.050},{"pop":"SAS","pos":3829,"val":0.065},{"pop":"SAS","pos":3853,"val":0.080},{"pop":"SAS","pos":3873,"val":0.090},{"pop":"SAS","pos":3897,"val":0.095},{"pop":"SAS","pos":3921,"val":0.080},{"pop":"SAS","pos":3948,"val":0.090},{"pop":"SAS","pos":3975,"val":0.100},{"pop":"SAS","pos":3992,"val":0.105},{"pop":"SAS","pos":4015,"val":0.090},{"pop":"SAS","pos":4036,"val":0.080},{"pop":"SAS","pos":4056,"val":0.060},{"pop":"SAS","pos":4083,"val":0.055},{"pop":"SAS","pos":4110,"val":0.045},{"pop":"SAS","pos":4134,"val":0.050},{"pop":"SAS","pos":4157,"val":0.035},{"pop":"SAS","pos":4178,"val":0.025},{"pop":"SAS","pos":4211,"val":0.015},{"pop":"SAS","pos":4297,"val":0.025},{"pop":"SAS","pos":4325,"val":0.030},{"pop":"SAS","pos":4340,"val":0.035},{"pop":"SAS","pos":4417,"val":0.030},{"pop":"SAS","pos":4432,"val":0.035},{"pop":"SAS","pos":4494,"val":0.025},{"pop":"SAS","pos":4512,"val":0.030},{"pop":"SAS","pos":4531,"val":0.020},{"pop":"SAS","pos":4543,"val":0.030},{"pop":"SAS","pos":4562,"val":0.035},{"pop":"SAS","pos":4586,"val":0.040},{"pop":"SAS","pos":4604,"val":0.045},{"pop":"SAS","pos":4623,"val":0.050},{"pop":"SAS","pos":4635,"val":0.055},{"pop":"SAS","pos":4694,"val":0.060},{"pop":"SAS","pos":4724,"val":0.055},{"pop":"SAS","pos":4746,"val":0.050},{"pop":"SAS","pos":4758,"val":0.045},{"pop":"SAS","pos":4777,"val":0.050},{"pop":"SAS","pos":4795,"val":0.045},{"pop":"SAS","pos":4817,"val":0.035},{"pop":"SAS","pos":4832,"val":0.030},{"pop":"SAS","pos":4851,"val":0.035},{"pop":"SAS","pos":4869,"val":0.040},{"pop":"SAS","pos":4887,"val":0.045},{"pop":"SAS","pos":4943,"val":0.050},{"pop":"SAS","pos":4955,"val":0.055},{"pop":"SAS","pos":4980,"val":0.060},{"pop":"SAS","pos":4998,"val":0.063},{"pop":"SAS","pos":5017,"val":0.070},{"pop":"SAS","pos":5035,"val":0.085},{"pop":"SAS","pos":5053,"val":0.080},{"pop":"SAS","pos":5078,"val":0.085},{"pop":"SAS","pos":5103,"val":0.080},{"pop":"SAS","pos":5121,"val":0.075},{"pop":"SAS","pos":5140,"val":0.070},{"pop":"SAS","pos":5158,"val":0.065},{"pop":"SAS","pos":5177,"val":0.060},{"pop":"SAS","pos":5201,"val":0.065},{"pop":"SAS","pos":5226,"val":0.060},{"pop":"SAS","pos":5238,"val":0.040},{"pop":"SAS","pos":5257,"val":0.050},{"pop":"SAS","pos":5275,"val":0.045},{"pop":"SAS","pos":5293,"val":0.040},{"pop":"SAS","pos":5312,"val":0.050},{"pop":"SAS","pos":5330,"val":0.055},{"pop":"SAS","pos":5373,"val":0.040},{"pop":"SAS","pos":5392,"val":0.050},{"pop":"SAS","pos":5410,"val":0.045},{"pop":"SAS","pos":5429,"val":0.050},{"pop":"SAS","pos":5447,"val":0.055},{"pop":"SAS","pos":5466,"val":0.050},{"pop":"SAS","pos":5484,"val":0.045},{"pop":"SAS","pos":5509,"val":0.040},{"pop":"SAS","pos":5527,"val":0.050},{"pop":"SAS","pos":5546,"val":0.055},{"pop":"SAS","pos":5564,"val":0.060},{"pop":"SAS","pos":5582,"val":0.065},{"pop":"SAS","pos":5601,"val":0.055},{"pop":"SAS","pos":5619,"val":0.050},{"pop":"SAS","pos":5662,"val":0.045},{"pop":"SAS","pos":5693,"val":0.050},{"pop":"SAS","pos":5724,"val":0.045},{"pop":"SAS","pos":5748,"val":0.035},{"pop":"SAS","pos":5767,"val":0.045},{"pop":"SAS","pos":5785,"val":0.050},{"pop":"SAS","pos":5853,"val":0.045},{"pop":"SAS","pos":5878,"val":0.050},{"pop":"SAS","pos":5896,"val":0.060},{"pop":"SAS","pos":5915,"val":0.070},{"pop":"SAS","pos":5933,"val":0.060},{"pop":"SAS","pos":5951,"val":0.065},{"pop":"SAS","pos":5970,"val":0.060},{"pop":"SAS","pos":6001,"val":0.070},{"pop":"SAS","pos":6019,"val":0.075},{"pop":"SAS","pos":6038,"val":0.080},{"pop":"SAS","pos":6056,"val":0.075},{"pop":"SAS","pos":6081,"val":0.055},{"pop":"SAS","pos":6105,"val":0.050},{"pop":"SAS","pos":6124,"val":0.045},{"pop":"SAS","pos":6142,"val":0.050},{"pop":"SAS","pos":6161,"val":0.040},{"pop":"SAS","pos":6185,"val":0.045},{"pop":"SAS","pos":6216,"val":0.035},{"pop":"SAS","pos":6234,"val":0.050},{"pop":"SAS","pos":6253,"val":0.055},{"pop":"SAS","pos":6302,"val":0.060},{"pop":"SAS","pos":6320,"val":0.065},{"pop":"SAS","pos":6339,"val":0.060},{"pop":"SAS","pos":6357,"val":0.050},{"pop":"SAS","pos":6376,"val":0.060},{"pop":"SAS","pos":6394,"val":0.070},{"pop":"SAS","pos":6407,"val":0.079},{"pop":"SAS","pos":6425,"val":0.063},{"pop":"SAS","pos":6447,"val":0.050},{"pop":"SAS","pos":6462,"val":0.045},{"pop":"SAS","pos":6487,"val":0.050},{"pop":"SAS","pos":6508,"val":0.055},{"pop":"SAS","pos":6530,"val":0.050},{"pop":"SAS","pos":6548,"val":0.045},{"pop":"SAS","pos":6560,"val":0.060},{"pop":"SAS","pos":6591,"val":0.050},{"pop":"SAS","pos":6610,"val":0.040},{"pop":"SAS","pos":6622,"val":0.055},{"pop":"SAS","pos":6640,"val":0.065},{"pop":"SAS","pos":6662,"val":0.070},{"pop":"SAS","pos":6683,"val":0.075},{"pop":"SAS","pos":6708,"val":0.070},{"pop":"SAS","pos":6733,"val":0.075},{"pop":"SAS","pos":6757,"val":0.070},{"pop":"SAS","pos":6782,"val":0.080},{"pop":"SAS","pos":6800,"val":0.075},{"pop":"SAS","pos":6816,"val":0.060},{"pop":"SAS","pos":6837,"val":0.050},{"pop":"SAS","pos":6862,"val":0.045},{"pop":"SAS","pos":6880,"val":0.040},{"pop":"SAS","pos":6898,"val":0.035},{"pop":"SAS","pos":6917,"val":0.040},{"pop":"SAS","pos":6935,"val":0.045},{"pop":"SAS","pos":6954,"val":0.050},{"pop":"SAS","pos":6972,"val":0.040},{"pop":"SAS","pos":6985,"val":0.030},{"pop":"SAS","pos":7009,"val":0.040},{"pop":"SAS","pos":7028,"val":0.045},{"pop":"SAS","pos":7052,"val":0.050},{"pop":"SAS","pos":7077,"val":0.055},{"pop":"SAS","pos":7101,"val":0.050},{"pop":"SAS","pos":7123,"val":0.055},{"pop":"SAS","pos":7144,"val":0.045},{"pop":"SAS","pos":7163,"val":0.040},{"pop":"SAS","pos":7184,"val":0.050},{"pop":"SAS","pos":7206,"val":0.045},{"pop":"SAS","pos":7231,"val":0.050},{"pop":"SAS","pos":7249,"val":0.045},{"pop":"SAS","pos":7329,"val":0.040},{"pop":"SAS","pos":7347,"val":0.035},{"pop":"SAS","pos":7369,"val":0.040},{"pop":"SAS","pos":7384,"val":0.050},{"pop":"SAS","pos":7400,"val":0.045},{"pop":"SAS","pos":7421,"val":0.040},{"pop":"SAS","pos":7440,"val":0.030},{"pop":"SAS","pos":7458,"val":0.025},{"pop":"SAS","pos":7483,"val":0.030},{"pop":"SAS","pos":7532,"val":0.035},{"pop":"SAS","pos":7550,"val":0.030},{"pop":"SAS","pos":7569,"val":0.025},{"pop":"SAS","pos":7587,"val":0.020},{"pop":"SAS","pos":7606,"val":0.025},{"pop":"SAS","pos":7624,"val":0.030},{"pop":"SAS","pos":7646,"val":0.035},{"pop":"SAS","pos":7677,"val":0.030},{"pop":"SAS","pos":7692,"val":0.035},{"pop":"SAS","pos":7717,"val":0.040},{"pop":"SAS","pos":7753,"val":0.050},{"pop":"SAS","pos":7769,"val":0.055},{"pop":"SAS","pos":7790,"val":0.060},{"pop":"SAS","pos":7809,"val":0.065},{"pop":"SAS","pos":7827,"val":0.070},{"pop":"SAS","pos":7846,"val":0.060},{"pop":"SAS","pos":7864,"val":0.065},{"pop":"SAS","pos":7883,"val":0.075},{"pop":"SAS","pos":7901,"val":0.085},{"pop":"SAS","pos":7920,"val":0.080},{"pop":"SAS","pos":7938,"val":0.085},{"pop":"SAS","pos":7956,"val":0.075},{"pop":"SAS","pos":7975,"val":0.070},{"pop":"SAS","pos":7993,"val":0.075},{"pop":"SAS","pos":8012,"val":0.065},{"pop":"SAS","pos":8030,"val":0.070},{"pop":"SAS","pos":8049,"val":0.075},{"pop":"SAS","pos":8067,"val":0.080},{"pop":"SAS","pos":8086,"val":0.095},{"pop":"SAS","pos":8098,"val":0.080},{"pop":"SAS","pos":8147,"val":0.070},{"pop":"SAS","pos":8172,"val":0.060},{"pop":"SAS","pos":8190,"val":0.070},{"pop":"SAS","pos":8209,"val":0.080},{"pop":"SAS","pos":8227,"val":0.095},{"pop":"SAS","pos":8246,"val":0.085},{"pop":"SAS","pos":8289,"val":0.065},{"pop":"SAS","pos":8307,"val":0.070},{"pop":"SAS","pos":8344,"val":0.075},{"pop":"SAS","pos":8362,"val":0.090},{"pop":"SAS","pos":8381,"val":0.085},{"pop":"SAS","pos":8393,"val":0.070},{"pop":"SAS","pos":8405,"val":0.065},
      {"pop":"EAS","pos":101,"val":0.010},{"pop":"EAS","pos":135,"val":0.015},{"pop":"EAS","pos":159,"val":0.025},{"pop":"EAS","pos":260,"val":0.030},{"pop":"EAS","pos":274,"val":0.025},{"pop":"EAS","pos":288,"val":0.020},{"pop":"EAS","pos":315,"val":0.030},{"pop":"EAS","pos":335,"val":0.025},{"pop":"EAS","pos":355,"val":0.020},{"pop":"EAS","pos":403,"val":0.025},{"pop":"EAS","pos":430,"val":0.030},{"pop":"EAS","pos":447,"val":0.035},{"pop":"EAS","pos":463,"val":0.030},{"pop":"EAS","pos":497,"val":0.035},{"pop":"EAS","pos":518,"val":0.025},{"pop":"EAS","pos":551,"val":0.020},{"pop":"EAS","pos":565,"val":0.025},{"pop":"EAS","pos":592,"val":0.035},{"pop":"EAS","pos":606,"val":0.040},{"pop":"EAS","pos":626,"val":0.035},{"pop":"EAS","pos":639,"val":0.045},{"pop":"EAS","pos":653,"val":0.035},{"pop":"EAS","pos":666,"val":0.040},{"pop":"EAS","pos":693,"val":0.035},{"pop":"EAS","pos":748,"val":0.045},{"pop":"EAS","pos":761,"val":0.060},{"pop":"EAS","pos":775,"val":0.050},{"pop":"EAS","pos":795,"val":0.045},{"pop":"EAS","pos":809,"val":0.050},{"pop":"EAS","pos":829,"val":0.040},{"pop":"EAS","pos":849,"val":0.050},{"pop":"EAS","pos":869,"val":0.060},{"pop":"EAS","pos":890,"val":0.065},{"pop":"EAS","pos":910,"val":0.070},{"pop":"EAS","pos":930,"val":0.075},{"pop":"EAS","pos":944,"val":0.065},{"pop":"EAS","pos":964,"val":0.050},{"pop":"EAS","pos":985,"val":0.055},{"pop":"EAS","pos":1005,"val":0.050},{"pop":"EAS","pos":1025,"val":0.060},{"pop":"EAS","pos":1052,"val":0.050},{"pop":"EAS","pos":1072,"val":0.045},{"pop":"EAS","pos":1093,"val":0.040},{"pop":"EAS","pos":1120,"val":0.035},{"pop":"EAS","pos":1167,"val":0.030},{"pop":"EAS","pos":1187,"val":0.025},{"pop":"EAS","pos":1208,"val":0.020},{"pop":"EAS","pos":1225,"val":0.015},{"pop":"EAS","pos":1241,"val":0.020},{"pop":"EAS","pos":1282,"val":0.015},{"pop":"EAS","pos":1316,"val":0.020},{"pop":"EAS","pos":1356,"val":0.025},{"pop":"EAS","pos":1384,"val":0.035},{"pop":"EAS","pos":1404,"val":0.045},{"pop":"EAS","pos":1451,"val":0.040},{"pop":"EAS","pos":1471,"val":0.045},{"pop":"EAS","pos":1505,"val":0.040},{"pop":"EAS","pos":1539,"val":0.045},{"pop":"EAS","pos":1553,"val":0.050},{"pop":"EAS","pos":1566,"val":0.035},{"pop":"EAS","pos":1587,"val":0.030},{"pop":"EAS","pos":1600,"val":0.020},{"pop":"EAS","pos":1648,"val":0.025},{"pop":"EAS","pos":1668,"val":0.030},{"pop":"EAS","pos":1688,"val":0.035},{"pop":"EAS","pos":1749,"val":0.040},{"pop":"EAS","pos":1766,"val":0.045},{"pop":"EAS","pos":1800,"val":0.055},{"pop":"EAS","pos":1844,"val":0.045},{"pop":"EAS","pos":1864,"val":0.050},{"pop":"EAS","pos":1938,"val":0.040},{"pop":"EAS","pos":1959,"val":0.045},{"pop":"EAS","pos":1979,"val":0.040},{"pop":"EAS","pos":1999,"val":0.050},{"pop":"EAS","pos":2020,"val":0.045},{"pop":"EAS","pos":2040,"val":0.050},{"pop":"EAS","pos":2053,"val":0.045},{"pop":"EAS","pos":2081,"val":0.040},{"pop":"EAS","pos":2108,"val":0.045},{"pop":"EAS","pos":2128,"val":0.050},{"pop":"EAS","pos":2148,"val":0.045},{"pop":"EAS","pos":2168,"val":0.040},{"pop":"EAS","pos":2189,"val":0.030},{"pop":"EAS","pos":2216,"val":0.025},{"pop":"EAS","pos":2240,"val":0.020},{"pop":"EAS","pos":2290,"val":0.015},{"pop":"EAS","pos":2317,"val":0.005},{"pop":"EAS","pos":2351,"val":0.010},{"pop":"EAS","pos":2372,"val":0.015},{"pop":"EAS","pos":2443,"val":0.030},{"pop":"EAS","pos":2561,"val":0.020},{"pop":"EAS","pos":2629,"val":0.010},{"pop":"EAS","pos":2646,"val":0.000},{"pop":"EAS","pos":2663,"val":0.005},{"pop":"EAS","pos":2697,"val":0.015},{"pop":"EAS","pos":2747,"val":0.020},{"pop":"EAS","pos":2764,"val":0.030},{"pop":"EAS","pos":2791,"val":0.035},{"pop":"EAS","pos":2832,"val":0.040},{"pop":"EAS","pos":2950,"val":0.035},{"pop":"EAS","pos":2974,"val":0.025},{"pop":"EAS","pos":2994,"val":0.020},{"pop":"EAS","pos":3008,"val":0.025},{"pop":"EAS","pos":3028,"val":0.020},{"pop":"EAS","pos":3051,"val":0.025},{"pop":"EAS","pos":3068,"val":0.020},{"pop":"EAS","pos":3102,"val":0.015},{"pop":"EAS","pos":3123,"val":0.020},{"pop":"EAS","pos":3204,"val":0.025},{"pop":"EAS","pos":3237,"val":0.020},{"pop":"EAS","pos":3288,"val":0.015},{"pop":"EAS","pos":3305,"val":0.025},{"pop":"EAS","pos":3339,"val":0.020},{"pop":"EAS","pos":3359,"val":0.025},{"pop":"EAS","pos":3380,"val":0.045},{"pop":"EAS","pos":3400,"val":0.040},{"pop":"EAS","pos":3423,"val":0.045},{"pop":"EAS","pos":3441,"val":0.040},{"pop":"EAS","pos":3508,"val":0.035},{"pop":"EAS","pos":3535,"val":0.030},{"pop":"EAS","pos":3559,"val":0.025},{"pop":"EAS","pos":3582,"val":0.020},{"pop":"EAS","pos":3603,"val":0.015},{"pop":"EAS","pos":3626,"val":0.010},{"pop":"EAS","pos":3650,"val":0.015},{"pop":"EAS","pos":3677,"val":0.020},{"pop":"EAS","pos":3694,"val":0.025},{"pop":"EAS","pos":3711,"val":0.020},{"pop":"EAS","pos":3728,"val":0.030},{"pop":"EAS","pos":3795,"val":0.035},{"pop":"EAS","pos":3812,"val":0.040},{"pop":"EAS","pos":3846,"val":0.045},{"pop":"EAS","pos":3873,"val":0.050},{"pop":"EAS","pos":3897,"val":0.040},{"pop":"EAS","pos":3914,"val":0.035},{"pop":"EAS","pos":3948,"val":0.030},{"pop":"EAS","pos":3975,"val":0.045},{"pop":"EAS","pos":3992,"val":0.050},{"pop":"EAS","pos":4015,"val":0.045},{"pop":"EAS","pos":4049,"val":0.035},{"pop":"EAS","pos":4076,"val":0.030},{"pop":"EAS","pos":4100,"val":0.025},{"pop":"EAS","pos":4134,"val":0.020},{"pop":"EAS","pos":4157,"val":0.010},{"pop":"EAS","pos":4184,"val":0.005},{"pop":"EAS","pos":4218,"val":0.000},{"pop":"EAS","pos":4346,"val":0.005},{"pop":"EAS","pos":4408,"val":0.010},{"pop":"EAS","pos":4432,"val":0.015},{"pop":"EAS","pos":4500,"val":0.020},{"pop":"EAS","pos":4518,"val":0.025},{"pop":"EAS","pos":4540,"val":0.030},{"pop":"EAS","pos":4549,"val":0.035},{"pop":"EAS","pos":4601,"val":0.030},{"pop":"EAS","pos":4617,"val":0.035},{"pop":"EAS","pos":4632,"val":0.030},{"pop":"EAS","pos":4694,"val":0.025},{"pop":"EAS","pos":4724,"val":0.020},{"pop":"EAS","pos":4740,"val":0.010},{"pop":"EAS","pos":4817,"val":0.005},{"pop":"EAS","pos":4832,"val":0.000},{"pop":"EAS","pos":4848,"val":0.005},{"pop":"EAS","pos":4894,"val":0.010},{"pop":"EAS","pos":4986,"val":0.020},{"pop":"EAS","pos":5032,"val":0.025},{"pop":"EAS","pos":5047,"val":0.020},{"pop":"EAS","pos":5097,"val":0.015},{"pop":"EAS","pos":5177,"val":0.010},{"pop":"EAS","pos":5226,"val":0.015},{"pop":"EAS","pos":5238,"val":0.010},{"pop":"EAS","pos":5340,"val":0.015},{"pop":"EAS","pos":5355,"val":0.020},{"pop":"EAS","pos":5370,"val":0.025},{"pop":"EAS","pos":5410,"val":0.030},{"pop":"EAS","pos":5432,"val":0.035},{"pop":"EAS","pos":5472,"val":0.030},{"pop":"EAS","pos":5493,"val":0.040},{"pop":"EAS","pos":5515,"val":0.045},{"pop":"EAS","pos":5533,"val":0.040},{"pop":"EAS","pos":5555,"val":0.030},{"pop":"EAS","pos":5585,"val":0.025},{"pop":"EAS","pos":5607,"val":0.020},{"pop":"EAS","pos":5638,"val":0.025},{"pop":"EAS","pos":5656,"val":0.020},{"pop":"EAS","pos":5693,"val":0.030},{"pop":"EAS","pos":5699,"val":0.025},{"pop":"EAS","pos":5761,"val":0.030},{"pop":"EAS","pos":5785,"val":0.040},{"pop":"EAS","pos":5816,"val":0.045},{"pop":"EAS","pos":5841,"val":0.040},{"pop":"EAS","pos":5862,"val":0.050},{"pop":"EAS","pos":5878,"val":0.060},{"pop":"EAS","pos":5896,"val":0.070},{"pop":"EAS","pos":5915,"val":0.065},{"pop":"EAS","pos":5933,"val":0.070},{"pop":"EAS","pos":5955,"val":0.075},{"pop":"EAS","pos":5970,"val":0.070},{"pop":"EAS","pos":5988,"val":0.080},{"pop":"EAS","pos":6007,"val":0.070},{"pop":"EAS","pos":6031,"val":0.065},{"pop":"EAS","pos":6056,"val":0.060},{"pop":"EAS","pos":6074,"val":0.055},{"pop":"EAS","pos":6093,"val":0.050},{"pop":"EAS","pos":6117,"val":0.040},{"pop":"EAS","pos":6136,"val":0.035},{"pop":"EAS","pos":6160,"val":0.030},{"pop":"EAS","pos":6185,"val":0.025},{"pop":"EAS","pos":6203,"val":0.030},{"pop":"EAS","pos":6231,"val":0.045},{"pop":"EAS","pos":6253,"val":0.040},{"pop":"EAS","pos":6277,"val":0.035},{"pop":"EAS","pos":6302,"val":0.030},{"pop":"EAS","pos":6333,"val":0.025},{"pop":"EAS","pos":6376,"val":0.030},{"pop":"EAS","pos":6394,"val":0.020},{"pop":"EAS","pos":6416,"val":0.015},{"pop":"EAS","pos":6462,"val":0.010},{"pop":"EAS","pos":6539,"val":0.015},{"pop":"EAS","pos":6560,"val":0.020},{"pop":"EAS","pos":6579,"val":0.025},{"pop":"EAS","pos":6610,"val":0.030},{"pop":"EAS","pos":6631,"val":0.020},{"pop":"EAS","pos":6646,"val":0.025},{"pop":"EAS","pos":6671,"val":0.030},{"pop":"EAS","pos":6693,"val":0.035},{"pop":"EAS","pos":6723,"val":0.040},{"pop":"EAS","pos":6769,"val":0.045},{"pop":"EAS","pos":6794,"val":0.040},{"pop":"EAS","pos":6849,"val":0.035},{"pop":"EAS","pos":6868,"val":0.030},{"pop":"EAS","pos":6893,"val":0.025},{"pop":"EAS","pos":6923,"val":0.020},{"pop":"EAS","pos":6948,"val":0.025},{"pop":"EAS","pos":6972,"val":0.015},{"pop":"EAS","pos":7000,"val":0.025},{"pop":"EAS","pos":7101,"val":0.030},{"pop":"EAS","pos":7144,"val":0.035},{"pop":"EAS","pos":7163,"val":0.030},{"pop":"EAS","pos":7184,"val":0.020},{"pop":"EAS","pos":7237,"val":0.030},{"pop":"EAS","pos":7267,"val":0.035},{"pop":"EAS","pos":7292,"val":0.030},{"pop":"EAS","pos":7317,"val":0.025},{"pop":"EAS","pos":7338,"val":0.020},{"pop":"EAS","pos":7369,"val":0.025},{"pop":"EAS","pos":7400,"val":0.020},{"pop":"EAS","pos":7421,"val":0.015},{"pop":"EAS","pos":7440,"val":0.010},{"pop":"EAS","pos":7452,"val":0.020},{"pop":"EAS","pos":7477,"val":0.025},{"pop":"EAS","pos":7523,"val":0.030},{"pop":"EAS","pos":7569,"val":0.035},{"pop":"EAS","pos":7593,"val":0.040},{"pop":"EAS","pos":7637,"val":0.050},{"pop":"EAS","pos":7667,"val":0.040},{"pop":"EAS","pos":7692,"val":0.045},{"pop":"EAS","pos":7723,"val":0.050},{"pop":"EAS","pos":7747,"val":0.045},{"pop":"EAS","pos":7769,"val":0.060},{"pop":"EAS","pos":7784,"val":0.055},{"pop":"EAS","pos":7799,"val":0.050},{"pop":"EAS","pos":7830,"val":0.040},{"pop":"EAS","pos":7860,"val":0.045},{"pop":"EAS","pos":7876,"val":0.040},{"pop":"EAS","pos":7907,"val":0.035},{"pop":"EAS","pos":7938,"val":0.040},{"pop":"EAS","pos":7953,"val":0.030},{"pop":"EAS","pos":8046,"val":0.025},{"pop":"EAS","pos":8067,"val":0.035},{"pop":"EAS","pos":8085,"val":0.045},{"pop":"EAS","pos":8107,"val":0.040},{"pop":"EAS","pos":8128,"val":0.035},{"pop":"EAS","pos":8153,"val":0.025},{"pop":"EAS","pos":8199,"val":0.030},{"pop":"EAS","pos":8221,"val":0.040},{"pop":"EAS","pos":8239,"val":0.050},{"pop":"EAS","pos":8264,"val":0.035},{"pop":"EAS","pos":8282,"val":0.025},{"pop":"EAS","pos":8301,"val":0.030},{"pop":"EAS","pos":8322,"val":0.035},{"pop":"EAS","pos":8353,"val":0.040},{"pop":"EAS","pos":8384,"val":0.035},{"pop":"EAS","pos":8405,"val":0.030},
      {"pop":"AMR","pos":101,"val":0.065},{"pop":"AMR","pos":112,"val":0.075},{"pop":"AMR","pos":125,"val":0.080},{"pop":"AMR","pos":139,"val":0.070},{"pop":"AMR","pos":159,"val":0.065},{"pop":"AMR","pos":210,"val":0.060},{"pop":"AMR","pos":227,"val":0.055},{"pop":"AMR","pos":244,"val":0.050},{"pop":"AMR","pos":260,"val":0.060},{"pop":"AMR","pos":274,"val":0.045},{"pop":"AMR","pos":294,"val":0.040},{"pop":"AMR","pos":311,"val":0.030},{"pop":"AMR","pos":321,"val":0.025},{"pop":"AMR","pos":355,"val":0.030},{"pop":"AMR","pos":379,"val":0.035},{"pop":"AMR","pos":403,"val":0.040},{"pop":"AMR","pos":423,"val":0.060},{"pop":"AMR","pos":443,"val":0.065},{"pop":"AMR","pos":463,"val":0.060},{"pop":"AMR","pos":480,"val":0.050},{"pop":"AMR","pos":497,"val":0.055},{"pop":"AMR","pos":599,"val":0.050},{"pop":"AMR","pos":616,"val":0.035},{"pop":"AMR","pos":626,"val":0.025},{"pop":"AMR","pos":650,"val":0.035},{"pop":"AMR","pos":687,"val":0.030},{"pop":"AMR","pos":717,"val":0.035},{"pop":"AMR","pos":741,"val":0.040},{"pop":"AMR","pos":768,"val":0.045},{"pop":"AMR","pos":802,"val":0.040},{"pop":"AMR","pos":822,"val":0.035},{"pop":"AMR","pos":835,"val":0.030},{"pop":"AMR","pos":863,"val":0.045},{"pop":"AMR","pos":896,"val":0.050},{"pop":"AMR","pos":920,"val":0.055},{"pop":"AMR","pos":937,"val":0.050},{"pop":"AMR","pos":961,"val":0.045},{"pop":"AMR","pos":978,"val":0.040},{"pop":"AMR","pos":998,"val":0.050},{"pop":"AMR","pos":1012,"val":0.060},{"pop":"AMR","pos":1039,"val":0.070},{"pop":"AMR","pos":1056,"val":0.060},{"pop":"AMR","pos":1072,"val":0.055},{"pop":"AMR","pos":1093,"val":0.060},{"pop":"AMR","pos":1113,"val":0.055},{"pop":"AMR","pos":1140,"val":0.050},{"pop":"AMR","pos":1181,"val":0.055},{"pop":"AMR","pos":1201,"val":0.045},{"pop":"AMR","pos":1225,"val":0.030},{"pop":"AMR","pos":1241,"val":0.020},{"pop":"AMR","pos":1275,"val":0.015},{"pop":"AMR","pos":1292,"val":0.010},{"pop":"AMR","pos":1309,"val":0.015},{"pop":"AMR","pos":1333,"val":0.010},{"pop":"AMR","pos":1363,"val":0.015},{"pop":"AMR","pos":1377,"val":0.020},{"pop":"AMR","pos":1411,"val":0.025},{"pop":"AMR","pos":1438,"val":0.030},{"pop":"AMR","pos":1458,"val":0.040},{"pop":"AMR","pos":1478,"val":0.055},{"pop":"AMR","pos":1495,"val":0.065},{"pop":"AMR","pos":1529,"val":0.060},{"pop":"AMR","pos":1553,"val":0.070},{"pop":"AMR","pos":1573,"val":0.060},{"pop":"AMR","pos":1614,"val":0.055},{"pop":"AMR","pos":1648,"val":0.045},{"pop":"AMR","pos":1668,"val":0.035},{"pop":"AMR","pos":1688,"val":0.025},{"pop":"AMR","pos":1708,"val":0.020},{"pop":"AMR","pos":1725,"val":0.015},{"pop":"AMR","pos":1742,"val":0.030},{"pop":"AMR","pos":1766,"val":0.035},{"pop":"AMR","pos":1800,"val":0.040},{"pop":"AMR","pos":1823,"val":0.045},{"pop":"AMR","pos":1844,"val":0.055},{"pop":"AMR","pos":1877,"val":0.065},{"pop":"AMR","pos":1904,"val":0.070},{"pop":"AMR","pos":1918,"val":0.075},{"pop":"AMR","pos":1938,"val":0.065},{"pop":"AMR","pos":1959,"val":0.070},{"pop":"AMR","pos":1993,"val":0.075},{"pop":"AMR","pos":2020,"val":0.060},{"pop":"AMR","pos":2040,"val":0.065},{"pop":"AMR","pos":2053,"val":0.060},{"pop":"AMR","pos":2070,"val":0.075},{"pop":"AMR","pos":2087,"val":0.060},{"pop":"AMR","pos":2104,"val":0.055},{"pop":"AMR","pos":2121,"val":0.060},{"pop":"AMR","pos":2155,"val":0.075},{"pop":"AMR","pos":2175,"val":0.055},{"pop":"AMR","pos":2196,"val":0.050},{"pop":"AMR","pos":2216,"val":0.055},{"pop":"AMR","pos":2240,"val":0.065},{"pop":"AMR","pos":2263,"val":0.050},{"pop":"AMR","pos":2307,"val":0.040},{"pop":"AMR","pos":2324,"val":0.030},{"pop":"AMR","pos":2351,"val":0.025},{"pop":"AMR","pos":2375,"val":0.040},{"pop":"AMR","pos":2409,"val":0.035},{"pop":"AMR","pos":2426,"val":0.040},{"pop":"AMR","pos":2466,"val":0.045},{"pop":"AMR","pos":2561,"val":0.035},{"pop":"AMR","pos":2578,"val":0.025},{"pop":"AMR","pos":2602,"val":0.030},{"pop":"AMR","pos":2622,"val":0.040},{"pop":"AMR","pos":2646,"val":0.030},{"pop":"AMR","pos":2663,"val":0.020},{"pop":"AMR","pos":2680,"val":0.030},{"pop":"AMR","pos":2713,"val":0.040},{"pop":"AMR","pos":2804,"val":0.035},{"pop":"AMR","pos":2825,"val":0.030},{"pop":"AMR","pos":2838,"val":0.020},{"pop":"AMR","pos":2859,"val":0.030},{"pop":"AMR","pos":2882,"val":0.020},{"pop":"AMR","pos":2899,"val":0.030},{"pop":"AMR","pos":2950,"val":0.035},{"pop":"AMR","pos":2984,"val":0.040},{"pop":"AMR","pos":3008,"val":0.055},{"pop":"AMR","pos":3028,"val":0.050},{"pop":"AMR","pos":3051,"val":0.060},{"pop":"AMR","pos":3075,"val":0.065},{"pop":"AMR","pos":3095,"val":0.060},{"pop":"AMR","pos":3119,"val":0.065},{"pop":"AMR","pos":3170,"val":0.070},{"pop":"AMR","pos":3190,"val":0.055},{"pop":"AMR","pos":3218,"val":0.050},{"pop":"AMR","pos":3251,"val":0.040},{"pop":"AMR","pos":3278,"val":0.035},{"pop":"AMR","pos":3298,"val":0.040},{"pop":"AMR","pos":3322,"val":0.035},{"pop":"AMR","pos":3345,"val":0.030},{"pop":"AMR","pos":3366,"val":0.025},{"pop":"AMR","pos":3380,"val":0.035},{"pop":"AMR","pos":3393,"val":0.045},{"pop":"AMR","pos":3413,"val":0.050},{"pop":"AMR","pos":3441,"val":0.045},{"pop":"AMR","pos":3461,"val":0.050},{"pop":"AMR","pos":3491,"val":0.045},{"pop":"AMR","pos":3515,"val":0.040},{"pop":"AMR","pos":3535,"val":0.035},{"pop":"AMR","pos":3569,"val":0.030},{"pop":"AMR","pos":3589,"val":0.015},{"pop":"AMR","pos":3643,"val":0.020},{"pop":"AMR","pos":3660,"val":0.015},{"pop":"AMR","pos":3670,"val":0.010},{"pop":"AMR","pos":3728,"val":0.025},{"pop":"AMR","pos":3745,"val":0.035},{"pop":"AMR","pos":3772,"val":0.040},{"pop":"AMR","pos":3795,"val":0.045},{"pop":"AMR","pos":3819,"val":0.050},{"pop":"AMR","pos":3839,"val":0.055},{"pop":"AMR","pos":3863,"val":0.060},{"pop":"AMR","pos":3887,"val":0.065},{"pop":"AMR","pos":3914,"val":0.075},{"pop":"AMR","pos":3934,"val":0.060},{"pop":"AMR","pos":3965,"val":0.070},{"pop":"AMR","pos":3982,"val":0.080},{"pop":"AMR","pos":4005,"val":0.075},{"pop":"AMR","pos":4022,"val":0.065},{"pop":"AMR","pos":4043,"val":0.060},{"pop":"AMR","pos":4066,"val":0.055},{"pop":"AMR","pos":4090,"val":0.050},{"pop":"AMR","pos":4151,"val":0.035},{"pop":"AMR","pos":4178,"val":0.020},{"pop":"AMR","pos":4184,"val":0.015},{"pop":"AMR","pos":4248,"val":0.010},{"pop":"AMR","pos":4273,"val":0.015},{"pop":"AMR","pos":4294,"val":0.020},{"pop":"AMR","pos":4309,"val":0.025},{"pop":"AMR","pos":4325,"val":0.030},{"pop":"AMR","pos":4346,"val":0.035},{"pop":"AMR","pos":4355,"val":0.045},{"pop":"AMR","pos":4417,"val":0.040},{"pop":"AMR","pos":4438,"val":0.045},{"pop":"AMR","pos":4463,"val":0.040},{"pop":"AMR","pos":4488,"val":0.050},{"pop":"AMR","pos":4503,"val":0.040},{"pop":"AMR","pos":4518,"val":0.035},{"pop":"AMR","pos":4531,"val":0.045},{"pop":"AMR","pos":4549,"val":0.040},{"pop":"AMR","pos":4562,"val":0.065},{"pop":"AMR","pos":4586,"val":0.070},{"pop":"AMR","pos":4601,"val":0.075},{"pop":"AMR","pos":4623,"val":0.085},{"pop":"AMR","pos":4648,"val":0.080},{"pop":"AMR","pos":4666,"val":0.090},{"pop":"AMR","pos":4685,"val":0.095},{"pop":"AMR","pos":4703,"val":0.090},{"pop":"AMR","pos":4715,"val":0.100},{"pop":"AMR","pos":4734,"val":0.095},{"pop":"AMR","pos":4752,"val":0.085},{"pop":"AMR","pos":4771,"val":0.070},{"pop":"AMR","pos":4789,"val":0.060},{"pop":"AMR","pos":4817,"val":0.055},{"pop":"AMR","pos":4838,"val":0.050},{"pop":"AMR","pos":4869,"val":0.045},{"pop":"AMR","pos":4894,"val":0.040},{"pop":"AMR","pos":4918,"val":0.035},{"pop":"AMR","pos":4931,"val":0.030},{"pop":"AMR","pos":4955,"val":0.035},{"pop":"AMR","pos":4992,"val":0.045},{"pop":"AMR","pos":5017,"val":0.055},{"pop":"AMR","pos":5035,"val":0.065},{"pop":"AMR","pos":5053,"val":0.070},{"pop":"AMR","pos":5078,"val":0.080},{"pop":"AMR","pos":5164,"val":0.075},{"pop":"AMR","pos":5186,"val":0.095},{"pop":"AMR","pos":5201,"val":0.080},{"pop":"AMR","pos":5226,"val":0.070},{"pop":"AMR","pos":5247,"val":0.060},{"pop":"AMR","pos":5269,"val":0.050},{"pop":"AMR","pos":5287,"val":0.045},{"pop":"AMR","pos":5309,"val":0.055},{"pop":"AMR","pos":5330,"val":0.060},{"pop":"AMR","pos":5349,"val":0.055},{"pop":"AMR","pos":5370,"val":0.065},{"pop":"AMR","pos":5386,"val":0.045},{"pop":"AMR","pos":5410,"val":0.050},{"pop":"AMR","pos":5463,"val":0.040},{"pop":"AMR","pos":5493,"val":0.045},{"pop":"AMR","pos":5515,"val":0.035},{"pop":"AMR","pos":5539,"val":0.045},{"pop":"AMR","pos":5576,"val":0.040},{"pop":"AMR","pos":5607,"val":0.035},{"pop":"AMR","pos":5632,"val":0.050},{"pop":"AMR","pos":5686,"val":0.055},{"pop":"AMR","pos":5724,"val":0.050},{"pop":"AMR","pos":5755,"val":0.040},{"pop":"AMR","pos":5785,"val":0.050},{"pop":"AMR","pos":5810,"val":0.060},{"pop":"AMR","pos":5832,"val":0.045},{"pop":"AMR","pos":5847,"val":0.055},{"pop":"AMR","pos":5896,"val":0.065},{"pop":"AMR","pos":5924,"val":0.060},{"pop":"AMR","pos":5945,"val":0.070},{"pop":"AMR","pos":5970,"val":0.065},{"pop":"AMR","pos":5985,"val":0.070},{"pop":"AMR","pos":6001,"val":0.060},{"pop":"AMR","pos":6019,"val":0.055},{"pop":"AMR","pos":6037,"val":0.060},{"pop":"AMR","pos":6062,"val":0.065},{"pop":"AMR","pos":6087,"val":0.070},{"pop":"AMR","pos":6108,"val":0.050},{"pop":"AMR","pos":6139,"val":0.045},{"pop":"AMR","pos":6170,"val":0.040},{"pop":"AMR","pos":6200,"val":0.035},{"pop":"AMR","pos":6231,"val":0.045},{"pop":"AMR","pos":6247,"val":0.035},{"pop":"AMR","pos":6354,"val":0.030},{"pop":"AMR","pos":6376,"val":0.045},{"pop":"AMR","pos":6400,"val":0.060},{"pop":"AMR","pos":6419,"val":0.050},{"pop":"AMR","pos":6437,"val":0.045},{"pop":"AMR","pos":6462,"val":0.030},{"pop":"AMR","pos":6487,"val":0.025},{"pop":"AMR","pos":6524,"val":0.030},{"pop":"AMR","pos":6560,"val":0.040},{"pop":"AMR","pos":6579,"val":0.020},{"pop":"AMR","pos":6601,"val":0.015},{"pop":"AMR","pos":6622,"val":0.025},{"pop":"AMR","pos":6646,"val":0.040},{"pop":"AMR","pos":6677,"val":0.050},{"pop":"AMR","pos":6702,"val":0.060},{"pop":"AMR","pos":6723,"val":0.070},{"pop":"AMR","pos":6745,"val":0.075},{"pop":"AMR","pos":6769,"val":0.085},{"pop":"AMR","pos":6794,"val":0.080},{"pop":"AMR","pos":6815,"val":0.075},{"pop":"AMR","pos":6837,"val":0.070},{"pop":"AMR","pos":6862,"val":0.060},{"pop":"AMR","pos":6886,"val":0.045},{"pop":"AMR","pos":6908,"val":0.040},{"pop":"AMR","pos":6929,"val":0.035},{"pop":"AMR","pos":6948,"val":0.025},{"pop":"AMR","pos":6969,"val":0.035},{"pop":"AMR","pos":6991,"val":0.040},{"pop":"AMR","pos":7031,"val":0.050},{"pop":"AMR","pos":7061,"val":0.055},{"pop":"AMR","pos":7083,"val":0.060},{"pop":"AMR","pos":7107,"val":0.065},{"pop":"AMR","pos":7132,"val":0.055},{"pop":"AMR","pos":7153,"val":0.045},{"pop":"AMR","pos":7199,"val":0.040},{"pop":"AMR","pos":7230,"val":0.045},{"pop":"AMR","pos":7246,"val":0.055},{"pop":"AMR","pos":7277,"val":0.050},{"pop":"AMR","pos":7298,"val":0.045},{"pop":"AMR","pos":7323,"val":0.050},{"pop":"AMR","pos":7369,"val":0.060},{"pop":"AMR","pos":7400,"val":0.065},{"pop":"AMR","pos":7430,"val":0.055},{"pop":"AMR","pos":7452,"val":0.045},{"pop":"AMR","pos":7477,"val":0.040},{"pop":"AMR","pos":7501,"val":0.035},{"pop":"AMR","pos":7523,"val":0.030},{"pop":"AMR","pos":7553,"val":0.045},{"pop":"AMR","pos":7575,"val":0.030},{"pop":"AMR","pos":7599,"val":0.025},{"pop":"AMR","pos":7624,"val":0.030},{"pop":"AMR","pos":7646,"val":0.040},{"pop":"AMR","pos":7667,"val":0.045},{"pop":"AMR","pos":7692,"val":0.050},{"pop":"AMR","pos":7717,"val":0.055},{"pop":"AMR","pos":7747,"val":0.045},{"pop":"AMR","pos":7769,"val":0.055},{"pop":"AMR","pos":7790,"val":0.050},{"pop":"AMR","pos":7815,"val":0.060},{"pop":"AMR","pos":7833,"val":0.075},{"pop":"AMR","pos":7852,"val":0.065},{"pop":"AMR","pos":7892,"val":0.060},{"pop":"AMR","pos":7922,"val":0.055},{"pop":"AMR","pos":7944,"val":0.065},{"pop":"AMR","pos":7969,"val":0.055},{"pop":"AMR","pos":7993,"val":0.050},{"pop":"AMR","pos":8015,"val":0.055},{"pop":"AMR","pos":8030,"val":0.045},{"pop":"AMR","pos":8049,"val":0.035},{"pop":"AMR","pos":8067,"val":0.045},{"pop":"AMR","pos":8085,"val":0.055},{"pop":"AMR","pos":8107,"val":0.050},{"pop":"AMR","pos":8128,"val":0.045},{"pop":"AMR","pos":8178,"val":0.040},{"pop":"AMR","pos":8199,"val":0.050},{"pop":"AMR","pos":8221,"val":0.045},{"pop":"AMR","pos":8261,"val":0.040},{"pop":"AMR","pos":8276,"val":0.030},{"pop":"AMR","pos":8292,"val":0.020},{"pop":"AMR","pos":8307,"val":0.025},{"pop":"AMR","pos":8353,"val":0.030},{"pop":"AMR","pos":8375,"val":0.040},{"pop":"AMR","pos":8387,"val":0.045},{"pop":"AMR","pos":8399,"val":0.030},{"pop":"AMR","pos":8408,"val":0.045}
    ]
  },
  "vconcat": [
    {
      "title": {"text": "NFE", "offset": -204},
      "width": 2842, "height": 282,
      "layer": [
        {"data": {"name": "regions"}, "transform": [{"filter": "datum.pop == 'NFE'"}],
         "mark": {"type": "rect", "opacity": 0.5},
         "encoding": {
           "x": {"field": "start", "type": "quantitative", "title": null, "scale": {"domain": [-315, 8823], "nice": false, "zero": false},
                 "axis": {"values": [-250,0,250,500,750,1000,1250,1500,1750,2000,2250,2500,2750,3000,3250,3500,3750,4000,4250,4500,4750,5000,5250,5500,5750,6000,6250,6500,6750,7000,7250,7500,7750,8000,8250,8500], "format": "d", "labelOverlap": false, "labelFlush": false,
                          "labelExpr": "datum.value % 500 == 0 && datum.value >= 0 && datum.value <= 8000 ? datum.label : ''",
                          "tickOpacity": {"condition": {"test": "datum.value % 500 == 0 && datum.value >= 0 && datum.value <= 8000", "value": 1}, "value": 0},
                          "gridWidth": {"condition": {"test": "datum.value % 500 == 0 && datum.value >= 0 && datum.value <= 8000", "value": 2.3}, "value": 1.15}}},
           "x2": {"field": "end"},
           "color": {"field": "density", "type": "nominal", "scale": {"domain": ["High density", "Low density"], "range": ["#B3B3B3", "#FFFFFF"]},
                     "legend": {"title": "Variant density", "orient": "none", "legendX": 2886, "legendY": 924, "symbolType": "square", "symbolSize": 5184,
                                "symbolStrokeColor": "#999999", "symbolStrokeWidth": 3, "symbolOpacity": 0.5, "labelFontSize": 34, "labelColor": "#1A1A1A",
                                "labelOffset": 22, "labelLimit": 500, "titleLimit": 500, "titleFontSize": 42, "titleFontWeight": "normal", "titleColor": "#000000", "titlePadding": 18, "rowPadding": 0,
                                "labelFont": "Liberation Sans", "titleFont": "Liberation Sans"}}
         }},
        {"data": {"name": "means"}, "transform": [{"filter": "datum.pop == 'NFE'"}],
         "mark": {"type": "rule", "color": "#F2553F", "strokeWidth": 4.5, "strokeDash": [20, 20]},
         "encoding": {"y": {"field": "mean", "type": "quantitative", "title": null, "scale": {"domain": [0.0245, 0.1557], "nice": false, "zero": false},
           "axis": {"values": [0.04,0.06,0.08,0.1,0.12,0.14], "format": ".3f", "labelOverlap": false,
                    "labelExpr": "indexof([0.04,0.08,0.12], datum.value) >= 0 ? datum.label : ''",
                    "tickOpacity": {"condition": {"test": "indexof([0.04,0.08,0.12], datum.value) >= 0", "value": 1}, "value": 0},
                    "gridWidth": {"condition": {"test": "indexof([0.04,0.08,0.12], datum.value) >= 0", "value": 2.3}, "value": 1.15}}}}},
        {"data": {"name": "density"}, "transform": [{"filter": "datum.pop == 'NFE'"}],
         "mark": {"type": "line", "interpolate": "step-after", "color": "#8B6508", "strokeWidth": 3},
         "encoding": {"x": {"field": "pos", "type": "quantitative", "title": null, "scale": {"domain": [-315, 8823], "nice": false, "zero": false}},
                      "y": {"field": "val", "type": "quantitative", "title": null, "scale": {"domain": [0.0245, 0.1557], "nice": false, "zero": false}}}},
        {"data": {"name": "variants"},
         "mark": {"type": "rule", "color": "#1A1A1A", "strokeWidth": 5.5},
         "encoding": {"x": {"field": "pos", "type": "quantitative", "title": null, "scale": {"domain": [-315, 8823], "nice": false, "zero": false}},
                      "y": {"datum": 0.1557, "scale": {"domain": [0.0245, 0.1557], "nice": false, "zero": false}}, "y2": {"datum": -0.0509}}},
        {"data": {"name": "variants"},
         "mark": {"type": "point", "shape": "triangle-down", "size": 2500, "filled": true, "color": "#1A1A1A", "opacity": 1},
         "encoding": {"x": {"field": "pos", "type": "quantitative", "title": null, "scale": {"domain": [-315, 8823], "nice": false, "zero": false}},
                      "y": {"datum": 0.1668, "scale": {"domain": [0.0245, 0.1557], "nice": false, "zero": false}}}},
        {"data": {"name": "variants"},
         "mark": {"type": "text", "angle": -39, "align": "left", "baseline": "alphabetic", "dx": -22, "font": "Liberation Serif", "fontSize": 55, "color": "#1A1A1A"},
         "encoding": {"x": {"field": "pos", "type": "quantitative", "title": null, "scale": {"domain": [-315, 8823], "nice": false, "zero": false}},
                      "y": {"datum": 0.1887, "scale": {"domain": [0.0245, 0.1557], "nice": false, "zero": false}},
                      "text": {"field": "label"}}}
      ]
    },
    {
      "title": {"text": "AFR"},
      "width": 2842, "height": 282,
      "layer": [
        {"data": {"name": "regions"}, "transform": [{"filter": "datum.pop == 'AFR'"}],
         "mark": {"type": "rect", "opacity": 0.5},
         "encoding": {
           "x": {"field": "start", "type": "quantitative", "title": null, "scale": {"domain": [-315, 8823], "nice": false, "zero": false},
                 "axis": {"values": [-250,0,250,500,750,1000,1250,1500,1750,2000,2250,2500,2750,3000,3250,3500,3750,4000,4250,4500,4750,5000,5250,5500,5750,6000,6250,6500,6750,7000,7250,7500,7750,8000,8250,8500], "format": "d", "labelOverlap": false, "labelFlush": false,
                          "labelExpr": "datum.value % 500 == 0 && datum.value >= 0 && datum.value <= 8000 ? datum.label : ''",
                          "tickOpacity": {"condition": {"test": "datum.value % 500 == 0 && datum.value >= 0 && datum.value <= 8000", "value": 1}, "value": 0},
                          "gridWidth": {"condition": {"test": "datum.value % 500 == 0 && datum.value >= 0 && datum.value <= 8000", "value": 2.3}, "value": 1.15}}},
           "x2": {"field": "end"},
           "color": {"field": "density", "type": "nominal", "scale": {"domain": ["High density", "Low density"], "range": ["#B3B3B3", "#FFFFFF"]}}
         }},
        {"data": {"name": "means"}, "transform": [{"filter": "datum.pop == 'AFR'"}],
         "mark": {"type": "rule", "color": "#F2553F", "strokeWidth": 4.5, "strokeDash": [20, 20]},
         "encoding": {"y": {"field": "mean", "type": "quantitative", "title": null, "scale": {"domain": [-0.0035, 0.0735], "nice": false, "zero": false},
           "axis": {"values": [0,0.01,0.02,0.03,0.04,0.05,0.06,0.07], "format": ".3f", "labelOverlap": false,
                    "labelExpr": "indexof([0,0.02,0.04,0.06], datum.value) >= 0 ? datum.label : ''",
                    "tickOpacity": {"condition": {"test": "indexof([0,0.02,0.04,0.06], datum.value) >= 0", "value": 1}, "value": 0},
                    "gridWidth": {"condition": {"test": "indexof([0,0.02,0.04,0.06], datum.value) >= 0", "value": 2.3}, "value": 1.15}}}}},
        {"data": {"name": "density"}, "transform": [{"filter": "datum.pop == 'AFR'"}],
         "mark": {"type": "line", "interpolate": "step-after", "color": "#2E8B57", "strokeWidth": 3},
         "encoding": {"x": {"field": "pos", "type": "quantitative", "title": null, "scale": {"domain": [-315, 8823], "nice": false, "zero": false}},
                      "y": {"field": "val", "type": "quantitative", "title": null, "scale": {"domain": [-0.0035, 0.0735], "nice": false, "zero": false}}}},
        {"data": {"name": "variants"},
         "mark": {"type": "rule", "color": "#1A1A1A", "strokeWidth": 5.5},
         "encoding": {"x": {"field": "pos", "type": "quantitative", "title": null, "scale": {"domain": [-315, 8823], "nice": false, "zero": false}},
                      "y": {"datum": 0.0735, "scale": {"domain": [-0.0035, 0.0735], "nice": false, "zero": false}}, "y2": {"datum": -0.0477}}}
      ]
    },
    {
      "title": {"text": "SAS"},
      "width": 2842, "height": 282,
      "layer": [
        {"data": {"name": "regions"}, "transform": [{"filter": "datum.pop == 'SAS'"}],
         "mark": {"type": "rect", "opacity": 0.5},
         "encoding": {
           "x": {"field": "start", "type": "quantitative", "title": null, "scale": {"domain": [-315, 8823], "nice": false, "zero": false},
                 "axis": {"values": [-250,0,250,500,750,1000,1250,1500,1750,2000,2250,2500,2750,3000,3250,3500,3750,4000,4250,4500,4750,5000,5250,5500,5750,6000,6250,6500,6750,7000,7250,7500,7750,8000,8250,8500], "format": "d", "labelOverlap": false, "labelFlush": false,
                          "labelExpr": "datum.value % 500 == 0 && datum.value >= 0 && datum.value <= 8000 ? datum.label : ''",
                          "tickOpacity": {"condition": {"test": "datum.value % 500 == 0 && datum.value >= 0 && datum.value <= 8000", "value": 1}, "value": 0},
                          "gridWidth": {"condition": {"test": "datum.value % 500 == 0 && datum.value >= 0 && datum.value <= 8000", "value": 2.3}, "value": 1.15}}},
           "x2": {"field": "end"},
           "color": {"field": "density", "type": "nominal", "scale": {"domain": ["High density", "Low density"], "range": ["#B3B3B3", "#FFFFFF"]}}
         }},
        {"data": {"name": "means"}, "transform": [{"filter": "datum.pop == 'SAS'"}],
         "mark": {"type": "rule", "color": "#F2553F", "strokeWidth": 4.5, "strokeDash": [20, 20]},
         "encoding": {"y": {"field": "mean", "type": "quantitative", "title": "Variant Density", "scale": {"domain": [0.0107, 0.1093], "nice": false, "zero": false},
           "axis": {"values": [0.0125,0.025,0.0375,0.05,0.0625,0.075,0.0875,0.1], "format": ".3f", "labelOverlap": false,
                    "labelExpr": "indexof([0.025,0.05,0.075,0.1], datum.value) >= 0 ? datum.label : ''",
                    "tickOpacity": {"condition": {"test": "indexof([0.025,0.05,0.075,0.1], datum.value) >= 0", "value": 1}, "value": 0},
                    "gridWidth": {"condition": {"test": "indexof([0.025,0.05,0.075,0.1], datum.value) >= 0", "value": 2.3}, "value": 1.15},
                    "titleX": -158, "titleY": 171, "titleAngle": -90, "titleAlign": "center", "titleBaseline": "middle"}}}},
        {"data": {"name": "density"}, "transform": [{"filter": "datum.pop == 'SAS'"}],
         "mark": {"type": "line", "interpolate": "step-after", "color": "#CD8500", "strokeWidth": 3},
         "encoding": {"x": {"field": "pos", "type": "quantitative", "title": null, "scale": {"domain": [-315, 8823], "nice": false, "zero": false}},
                      "y": {"field": "val", "type": "quantitative", "title": "Variant Density", "scale": {"domain": [0.0107, 0.1093], "nice": false, "zero": false}}}},
        {"data": {"name": "variants"},
         "mark": {"type": "rule", "color": "#1A1A1A", "strokeWidth": 5.5},
         "encoding": {"x": {"field": "pos", "type": "quantitative", "title": null, "scale": {"domain": [-315, 8823], "nice": false, "zero": false}},
                      "y": {"datum": 0.1093, "scale": {"domain": [0.0107, 0.1093], "nice": false, "zero": false}}, "y2": {"datum": -0.0459}}}
      ]
    },
    {
      "title": {"text": "EAS"},
      "width": 2842, "height": 282,
      "layer": [
        {"data": {"name": "regions"}, "transform": [{"filter": "datum.pop == 'EAS'"}],
         "mark": {"type": "rect", "opacity": 0.5},
         "encoding": {
           "x": {"field": "start", "type": "quantitative", "title": null, "scale": {"domain": [-315, 8823], "nice": false, "zero": false},
                 "axis": {"values": [-250,0,250,500,750,1000,1250,1500,1750,2000,2250,2500,2750,3000,3250,3500,3750,4000,4250,4500,4750,5000,5250,5500,5750,6000,6250,6500,6750,7000,7250,7500,7750,8000,8250,8500], "format": "d", "labelOverlap": false, "labelFlush": false,
                          "labelExpr": "datum.value % 500 == 0 && datum.value >= 0 && datum.value <= 8000 ? datum.label : ''",
                          "tickOpacity": {"condition": {"test": "datum.value % 500 == 0 && datum.value >= 0 && datum.value <= 8000", "value": 1}, "value": 0},
                          "gridWidth": {"condition": {"test": "datum.value % 500 == 0 && datum.value >= 0 && datum.value <= 8000", "value": 2.3}, "value": 1.15}}},
           "x2": {"field": "end"},
           "color": {"field": "density", "type": "nominal", "scale": {"domain": ["High density", "Low density"], "range": ["#B3B3B3", "#FFFFFF"]}}
         }},
        {"data": {"name": "means"}, "transform": [{"filter": "datum.pop == 'EAS'"}],
         "mark": {"type": "rule", "color": "#F2553F", "strokeWidth": 4.5, "strokeDash": [20, 20]},
         "encoding": {"y": {"field": "mean", "type": "quantitative", "title": null, "scale": {"domain": [-0.0038, 0.0838], "nice": false, "zero": false},
           "axis": {"values": [0,0.01,0.02,0.03,0.04,0.05,0.06,0.07,0.08], "format": ".3f", "labelOverlap": false,
                    "labelExpr": "indexof([0,0.02,0.04,0.06,0.08], datum.value) >= 0 ? datum.label : ''",
                    "tickOpacity": {"condition": {"test": "indexof([0,0.02,0.04,0.06,0.08], datum.value) >= 0", "value": 1}, "value": 0},
                    "gridWidth": {"condition": {"test": "indexof([0,0.02,0.04,0.06,0.08], datum.value) >= 0", "value": 2.3}, "value": 1.15}}}}},
        {"data": {"name": "density"}, "transform": [{"filter": "datum.pop == 'EAS'"}],
         "mark": {"type": "line", "interpolate": "step-after", "color": "#8B4789", "strokeWidth": 3},
         "encoding": {"x": {"field": "pos", "type": "quantitative", "title": null, "scale": {"domain": [-315, 8823], "nice": false, "zero": false}},
                      "y": {"field": "val", "type": "quantitative", "title": null, "scale": {"domain": [-0.0038, 0.0838], "nice": false, "zero": false}}}},
        {"data": {"name": "variants"},
         "mark": {"type": "rule", "color": "#1A1A1A", "strokeWidth": 5.5},
         "encoding": {"x": {"field": "pos", "type": "quantitative", "title": null, "scale": {"domain": [-315, 8823], "nice": false, "zero": false}},
                      "y": {"datum": 0.0838, "scale": {"domain": [-0.0038, 0.0838], "nice": false, "zero": false}}, "y2": {"datum": -0.0541}}}
      ]
    },
    {
      "title": {"text": "AMR"},
      "width": 2842, "height": 282,
      "layer": [
        {"data": {"name": "regions"}, "transform": [{"filter": "datum.pop == 'AMR'"}],
         "mark": {"type": "rect", "opacity": 0.5},
         "encoding": {
           "x": {"field": "start", "type": "quantitative", "title": "CDS position", "scale": {"domain": [-315, 8823], "nice": false, "zero": false},
                 "axis": {"values": [-250,0,250,500,750,1000,1250,1500,1750,2000,2250,2500,2750,3000,3250,3500,3750,4000,4250,4500,4750,5000,5250,5500,5750,6000,6250,6500,6750,7000,7250,7500,7750,8000,8250,8500], "format": "d", "labelOverlap": false, "labelFlush": false,
                          "labelExpr": "datum.value % 500 == 0 && datum.value >= 0 && datum.value <= 8000 ? datum.label : ''",
                          "tickOpacity": {"condition": {"test": "datum.value % 500 == 0 && datum.value >= 0 && datum.value <= 8000", "value": 1}, "value": 0},
                          "gridWidth": {"condition": {"test": "datum.value % 500 == 0 && datum.value >= 0 && datum.value <= 8000", "value": 2.3}, "value": 1.15},
                          "titleX": 1541, "titleY": 104, "titleAlign": "center", "titleBaseline": "middle"}},
           "x2": {"field": "end"},
           "color": {"field": "density", "type": "nominal", "scale": {"domain": ["High density", "Low density"], "range": ["#B3B3B3", "#FFFFFF"]}}
         }},
        {"data": {"name": "means"}, "transform": [{"filter": "datum.pop == 'AMR'"}],
         "mark": {"type": "rule", "color": "#F2553F", "strokeWidth": 4.5, "strokeDash": [20, 20]},
         "encoding": {"y": {"field": "mean", "type": "quantitative", "title": null, "scale": {"domain": [0.0058, 0.1042], "nice": false, "zero": false},
           "axis": {"values": [0.0125,0.025,0.0375,0.05,0.0625,0.075,0.0875,0.1], "format": ".3f", "labelOverlap": false,
                    "labelExpr": "indexof([0.025,0.05,0.075,0.1], datum.value) >= 0 ? datum.label : ''",
                    "tickOpacity": {"condition": {"test": "indexof([0.025,0.05,0.075,0.1], datum.value) >= 0", "value": 1}, "value": 0},
                    "gridWidth": {"condition": {"test": "indexof([0.025,0.05,0.075,0.1], datum.value) >= 0", "value": 2.3}, "value": 1.15}}}}},
        {"data": {"name": "density"}, "transform": [{"filter": "datum.pop == 'AMR'"}],
         "mark": {"type": "line", "interpolate": "step-after", "color": "#27408B", "strokeWidth": 3},
         "encoding": {"x": {"field": "pos", "type": "quantitative", "title": "CDS position", "scale": {"domain": [-315, 8823], "nice": false, "zero": false}},
                      "y": {"field": "val", "type": "quantitative", "title": null, "scale": {"domain": [0.0058, 0.1042], "nice": false, "zero": false}}}},
        {"data": {"name": "variants"},
         "mark": {"type": "rule", "color": "#1A1A1A", "strokeWidth": 5.5},
         "encoding": {"x": {"field": "pos", "type": "quantitative", "title": "CDS position", "scale": {"domain": [-315, 8823], "nice": false, "zero": false}},
                      "y": {"datum": 0.1042, "scale": {"domain": [0.0058, 0.1042], "nice": false, "zero": false}}, "y2": {"datum": 0.0058}}}
      ]
    }
  ],
  "resolve": {"scale": {"x": "shared", "y": "independent", "color": "shared"}, "legend": {"color": "shared"}}
}
